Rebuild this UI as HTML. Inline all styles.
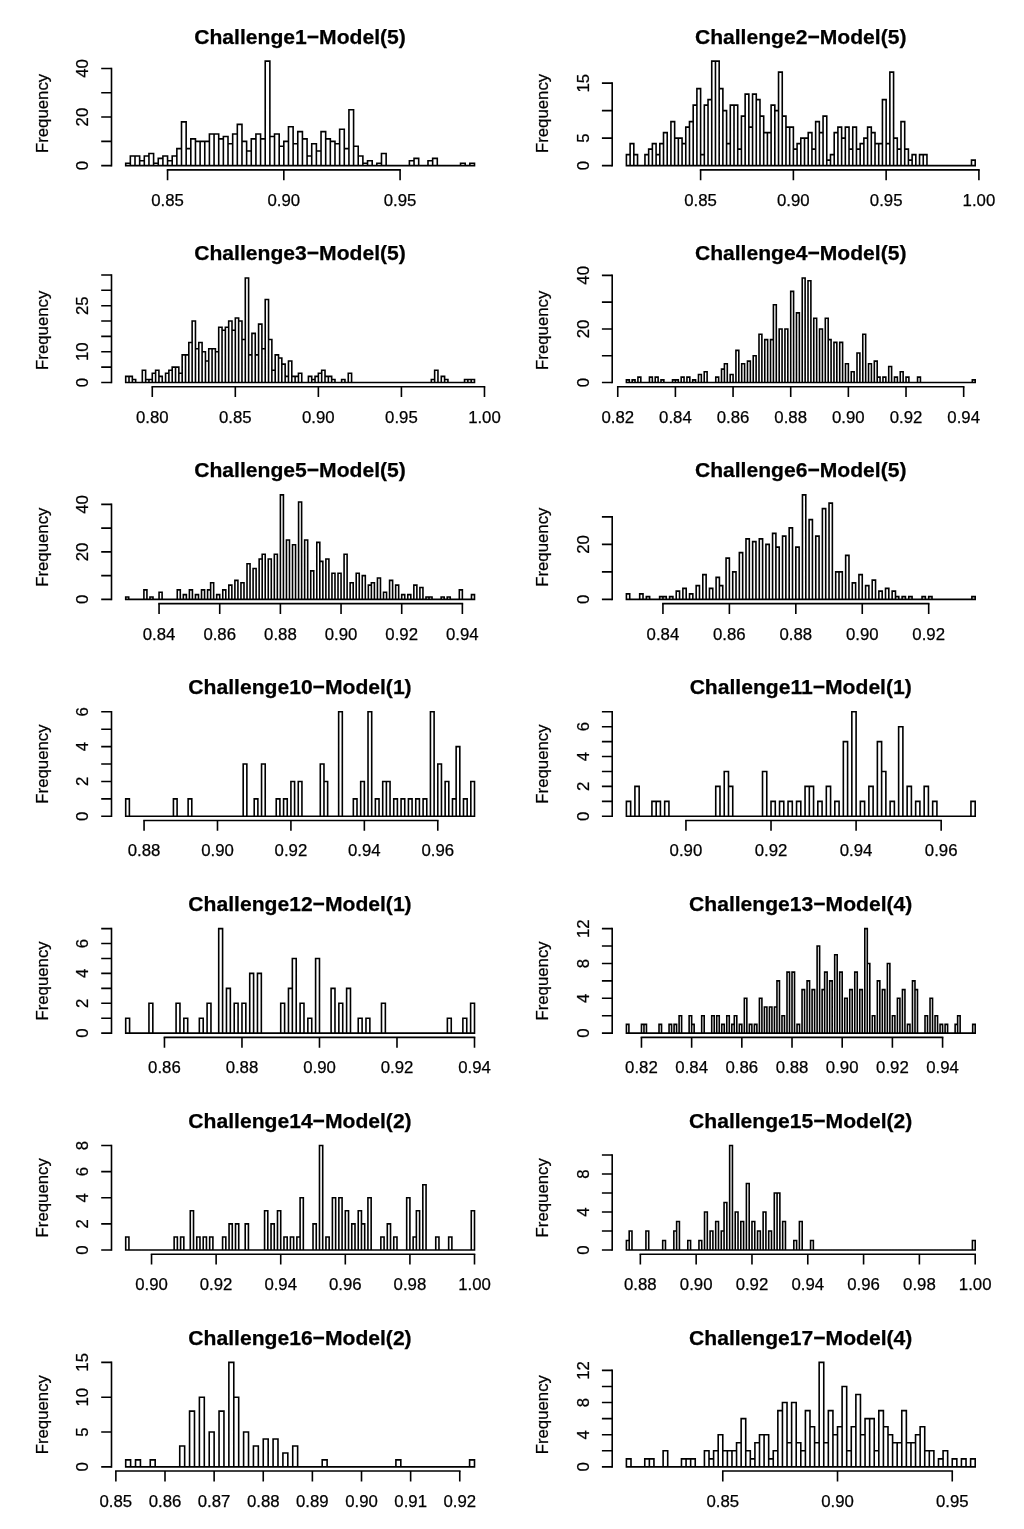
<!DOCTYPE html><html><head><meta charset="utf-8"><style>html,body{margin:0;padding:0;background:#fff;}svg{display:block;filter:grayscale(1);}text{font-family:"Liberation Sans",sans-serif;stroke:#000;stroke-width:0.25px;}</style></head><body>
<svg width="1024" height="1529" viewBox="0 0 1024 1529">
<rect width="1024" height="1529" fill="#fff"/>
<g><path d="M125.7 165.65V163.22H130.35V165.65ZM130.35 165.65V155.93H135V165.65ZM135 165.65V155.93H139.65V165.65ZM139.65 165.65V160.79H144.3V165.65ZM144.3 165.65V155.93H148.95V165.65ZM148.95 165.65V153.5H153.6V165.65ZM153.6 165.65V163.22H158.25V165.65ZM158.25 165.65V158.36H162.91V165.65ZM162.91 165.65V155.93H167.56V165.65ZM167.56 165.65V160.79H172.21V165.65ZM172.21 165.65V155.93H176.86V165.65ZM176.86 165.65V148.64H181.51V165.65ZM181.51 165.65V121.91H186.16V165.65ZM186.16 165.65V148.64H190.81V165.65ZM190.81 165.65V138.92H195.46V165.65ZM195.46 165.65V141.35H200.11V165.65ZM200.11 165.65V141.35H204.76V165.65ZM204.76 165.65V141.35H209.41V165.65ZM209.41 165.65V134.06H214.06V165.65ZM214.06 165.65V134.06H218.71V165.65ZM218.71 165.65V138.92H223.36V165.65ZM223.36 165.65V136.49H228.01V165.65ZM228.01 165.65V143.78H232.67V165.65ZM232.67 165.65V134.06H237.32V165.65ZM237.32 165.65V124.34H241.97V165.65ZM241.97 165.65V141.35H246.62V165.65ZM246.62 165.65V151.07H251.27V165.65ZM251.27 165.65V138.92H255.92V165.65ZM255.92 165.65V134.06H260.57V165.65ZM260.57 165.65V138.92H265.22V165.65ZM265.22 165.65V61.15H269.87V165.65ZM269.87 165.65V136.49H274.52V165.65ZM274.52 165.65V134.06H279.17V165.65ZM279.17 165.65V146.21H283.82V165.65ZM283.82 165.65V141.35H288.47V165.65ZM288.47 165.65V126.77H293.12V165.65ZM293.12 165.65V143.78H297.77V165.65ZM297.77 165.65V131.63H302.43V165.65ZM302.43 165.65V138.92H307.08V165.65ZM307.08 165.65V155.93H311.73V165.65ZM311.73 165.65V143.78H316.38V165.65ZM316.38 165.65V151.07H321.03V165.65ZM321.03 165.65V131.63H325.68V165.65ZM325.68 165.65V138.92H330.33V165.65ZM330.33 165.65V141.35H334.98V165.65ZM334.98 165.65V143.78H339.63V165.65ZM339.63 165.65V129.2H344.28V165.65ZM344.28 165.65V148.64H348.93V165.65ZM348.93 165.65V109.75H353.58V165.65ZM353.58 165.65V146.21H358.23V165.65ZM358.23 165.65V155.93H362.88V165.65ZM362.88 165.65V163.22H367.53V165.65ZM367.53 165.65V160.79H372.19V165.65ZM372.19 165.65V165.65H376.84V165.65ZM376.84 165.65V163.22H381.49V165.65ZM381.49 165.65V153.5H386.14V165.65ZM386.14 165.65V165.65H390.79V165.65ZM390.79 165.65V165.65H395.44V165.65ZM395.44 165.65V165.65H400.09V165.65ZM400.09 165.65V165.65H404.74V165.65ZM404.74 165.65V165.65H409.39V165.65ZM409.39 165.65V160.79H414.04V165.65ZM414.04 165.65V158.36H418.69V165.65ZM418.69 165.65V165.65H423.34V165.65ZM423.34 165.65V165.65H427.99V165.65ZM427.99 165.65V160.79H432.64V165.65ZM432.64 165.65V158.36H437.29V165.65ZM437.29 165.65V165.65H441.95V165.65ZM441.95 165.65V165.65H446.6V165.65ZM446.6 165.65V165.65H451.25V165.65ZM451.25 165.65V165.65H455.9V165.65ZM455.9 165.65V165.65H460.55V165.65ZM460.55 165.65V163.22H465.2V165.65ZM465.2 165.65V165.65H469.85V165.65ZM469.85 165.65V163.22H474.5V165.65Z" fill="none" stroke="#000" stroke-width="1.6" stroke-linejoin="miter"/><path d="M167.56 169.85H400.09M111.5 165.65V68.44" fill="none" stroke="#000" stroke-width="1.6" stroke-linecap="square"/><path d="M167.56 169.85V180.25M283.82 169.85V180.25M400.09 169.85V180.25M101.2 165.65H111.5M101.2 141.35H111.5M101.2 117.05H111.5M101.2 92.74H111.5M101.2 68.44H111.5" fill="none" stroke="#000" stroke-width="1.6"/><text x="167.56" y="205.8" font-size="16.8" text-anchor="middle">0.85</text><text x="283.82" y="205.8" font-size="16.8" text-anchor="middle">0.90</text><text x="400.09" y="205.8" font-size="16.8" text-anchor="middle">0.95</text><text transform="translate(87.9 165.65) rotate(-90)" font-size="16.8" text-anchor="middle">0</text><text transform="translate(87.9 117.05) rotate(-90)" font-size="16.8" text-anchor="middle">20</text><text transform="translate(87.9 68.44) rotate(-90)" font-size="16.8" text-anchor="middle">40</text><text transform="translate(47.5 113.45) rotate(-90)" font-size="16.8" text-anchor="middle">Frequency</text><text x="300" y="43.55" font-size="21.1" font-weight="bold" text-anchor="middle">Challenge1−Model(5)</text></g>
<g><path d="M626.4 165.65V154.65H630.11V165.65ZM630.11 165.65V143.65H633.82V165.65ZM633.82 165.65V154.65H637.53V165.65ZM637.53 165.65V165.65H641.24V165.65ZM641.24 165.65V165.65H644.95V165.65ZM644.95 165.65V154.65H648.66V165.65ZM648.66 165.65V149.15H652.37V165.65ZM652.37 165.65V143.65H656.09V165.65ZM656.09 165.65V154.65H659.8V165.65ZM659.8 165.65V143.65H663.51V165.65ZM663.51 165.65V132.65H667.22V165.65ZM667.22 165.65V165.65H670.93V165.65ZM670.93 165.65V121.65H674.64V165.65ZM674.64 165.65V138.15H678.35V165.65ZM678.35 165.65V138.15H682.06V165.65ZM682.06 165.65V143.65H685.77V165.65ZM685.77 165.65V127.15H689.48V165.65ZM689.48 165.65V121.65H693.19V165.65ZM693.19 165.65V105.15H696.9V165.65ZM696.9 165.65V88.65H700.61V165.65ZM700.61 165.65V154.65H704.32V165.65ZM704.32 165.65V105.15H708.03V165.65ZM708.03 165.65V99.65H711.74V165.65ZM711.74 165.65V61.15H715.46V165.65ZM715.46 165.65V61.15H719.17V165.65ZM719.17 165.65V88.65H722.88V165.65ZM722.88 165.65V110.65H726.59V165.65ZM726.59 165.65V143.65H730.3V165.65ZM730.3 165.65V105.15H734.01V165.65ZM734.01 165.65V105.15H737.72V165.65ZM737.72 165.65V149.15H741.43V165.65ZM741.43 165.65V116.15H745.14V165.65ZM745.14 165.65V94.15H748.85V165.65ZM748.85 165.65V127.15H752.56V165.65ZM752.56 165.65V94.15H756.27V165.65ZM756.27 165.65V99.65H759.98V165.65ZM759.98 165.65V116.15H763.69V165.65ZM763.69 165.65V132.65H767.4V165.65ZM767.4 165.65V132.65H771.11V165.65ZM771.11 165.65V105.15H774.83V165.65ZM774.83 165.65V110.65H778.54V165.65ZM778.54 165.65V72.15H782.25V165.65ZM782.25 165.65V116.15H785.96V165.65ZM785.96 165.65V127.15H789.67V165.65ZM789.67 165.65V127.15H793.38V165.65ZM793.38 165.65V149.15H797.09V165.65ZM797.09 165.65V143.65H800.8V165.65ZM800.8 165.65V138.15H804.51V165.65ZM804.51 165.65V138.15H808.22V165.65ZM808.22 165.65V132.65H811.93V165.65ZM811.93 165.65V149.15H815.64V165.65ZM815.64 165.65V121.65H819.35V165.65ZM819.35 165.65V132.65H823.06V165.65ZM823.06 165.65V116.15H826.77V165.65ZM826.77 165.65V160.15H830.49V165.65ZM830.49 165.65V154.65H834.2V165.65ZM834.2 165.65V132.65H837.91V165.65ZM837.91 165.65V127.15H841.62V165.65ZM841.62 165.65V138.15H845.33V165.65ZM845.33 165.65V127.15H849.04V165.65ZM849.04 165.65V149.15H852.75V165.65ZM852.75 165.65V127.15H856.46V165.65ZM856.46 165.65V149.15H860.17V165.65ZM860.17 165.65V143.65H863.88V165.65ZM863.88 165.65V138.15H867.59V165.65ZM867.59 165.65V127.15H871.3V165.65ZM871.3 165.65V132.65H875.01V165.65ZM875.01 165.65V143.65H878.72V165.65ZM878.72 165.65V143.65H882.43V165.65ZM882.43 165.65V99.65H886.14V165.65ZM886.14 165.65V143.65H889.86V165.65ZM889.86 165.65V72.15H893.57V165.65ZM893.57 165.65V138.15H897.28V165.65ZM897.28 165.65V149.15H900.99V165.65ZM900.99 165.65V121.65H904.7V165.65ZM904.7 165.65V149.15H908.41V165.65ZM908.41 165.65V160.15H912.12V165.65ZM912.12 165.65V154.65H915.83V165.65ZM915.83 165.65V165.65H919.54V165.65ZM919.54 165.65V154.65H923.25V165.65ZM923.25 165.65V154.65H926.96V165.65ZM926.96 165.65V165.65H930.67V165.65ZM930.67 165.65V165.65H934.38V165.65ZM934.38 165.65V165.65H938.09V165.65ZM938.09 165.65V165.65H941.8V165.65ZM941.8 165.65V165.65H945.51V165.65ZM945.51 165.65V165.65H949.23V165.65ZM949.23 165.65V165.65H952.94V165.65ZM952.94 165.65V165.65H956.65V165.65ZM956.65 165.65V165.65H960.36V165.65ZM960.36 165.65V165.65H964.07V165.65ZM964.07 165.65V165.65H967.78V165.65ZM967.78 165.65V165.65H971.49V165.65ZM971.49 165.65V160.15H975.2V165.65Z" fill="none" stroke="#000" stroke-width="1.6" stroke-linejoin="miter"/><path d="M700.61 169.85H978.91M612.2 165.65V83.15" fill="none" stroke="#000" stroke-width="1.6" stroke-linecap="square"/><path d="M700.61 169.85V180.25M793.38 169.85V180.25M886.14 169.85V180.25M978.91 169.85V180.25M601.9 165.65H612.2M601.9 138.15H612.2M601.9 110.65H612.2M601.9 83.15H612.2" fill="none" stroke="#000" stroke-width="1.6"/><text x="700.61" y="205.8" font-size="16.8" text-anchor="middle">0.85</text><text x="793.38" y="205.8" font-size="16.8" text-anchor="middle">0.90</text><text x="886.14" y="205.8" font-size="16.8" text-anchor="middle">0.95</text><text x="978.91" y="205.8" font-size="16.8" text-anchor="middle">1.00</text><text transform="translate(588.6 165.65) rotate(-90)" font-size="16.8" text-anchor="middle">0</text><text transform="translate(588.6 138.15) rotate(-90)" font-size="16.8" text-anchor="middle">5</text><text transform="translate(588.6 83.15) rotate(-90)" font-size="16.8" text-anchor="middle">15</text><text transform="translate(548.2 113.45) rotate(-90)" font-size="16.8" text-anchor="middle">Frequency</text><text x="800.7" y="43.55" font-size="21.1" font-weight="bold" text-anchor="middle">Challenge2−Model(5)</text></g>
<g><path d="M125.7 382.52V376.37H129.02V382.52ZM129.02 382.52V376.37H132.34V382.52ZM132.34 382.52V379.45H135.67V382.52ZM135.67 382.52V382.52H138.99V382.52ZM138.99 382.52V382.52H142.31V382.52ZM142.31 382.52V370.23H145.63V382.52ZM145.63 382.52V379.45H148.95V382.52ZM148.95 382.52V379.45H152.28V382.52ZM152.28 382.52V373.3H155.6V382.52ZM155.6 382.52V370.23H158.92V382.52ZM158.92 382.52V376.37H162.24V382.52ZM162.24 382.52V382.52H165.56V382.52ZM165.56 382.52V373.3H168.88V382.52ZM168.88 382.52V370.23H172.21V382.52ZM172.21 382.52V367.15H175.53V382.52ZM175.53 382.52V367.15H178.85V382.52ZM178.85 382.52V373.3H182.17V382.52ZM182.17 382.52V354.86H185.49V382.52ZM185.49 382.52V354.86H188.82V382.52ZM188.82 382.52V342.56H192.14V382.52ZM192.14 382.52V321.05H195.46V382.52ZM195.46 382.52V348.71H198.78V382.52ZM198.78 382.52V342.56H202.1V382.52ZM202.1 382.52V351.78H205.43V382.52ZM205.43 382.52V361.01H208.75V382.52ZM208.75 382.52V348.71H212.07V382.52ZM212.07 382.52V348.71H215.39V382.52ZM215.39 382.52V351.78H218.71V382.52ZM218.71 382.52V327.2H222.04V382.52ZM222.04 382.52V330.27H225.36V382.52ZM225.36 382.52V327.2H228.68V382.52ZM228.68 382.52V321.05H232V382.52ZM232 382.52V330.27H235.32V382.52ZM235.32 382.52V317.98H238.64V382.52ZM238.64 382.52V321.05H241.97V382.52ZM241.97 382.52V339.49H245.29V382.52ZM245.29 382.52V278.02H248.61V382.52ZM248.61 382.52V354.86H251.93V382.52ZM251.93 382.52V333.34H255.25V382.52ZM255.25 382.52V354.86H258.58V382.52ZM258.58 382.52V324.12H261.9V382.52ZM261.9 382.52V348.71H265.22V382.52ZM265.22 382.52V299.53H268.54V382.52ZM268.54 382.52V339.49H271.86V382.52ZM271.86 382.52V370.23H275.19V382.52ZM275.19 382.52V354.86H278.51V382.52ZM278.51 382.52V357.93H281.83V382.52ZM281.83 382.52V364.08H285.15V382.52ZM285.15 382.52V376.37H288.47V382.52ZM288.47 382.52V361.01H291.8V382.52ZM291.8 382.52V376.37H295.12V382.52ZM295.12 382.52V376.37H298.44V382.52ZM298.44 382.52V373.3H301.76V382.52ZM301.76 382.52V382.52H305.08V382.52ZM305.08 382.52V382.52H308.4V382.52ZM308.4 382.52V376.37H311.73V382.52ZM311.73 382.52V379.45H315.05V382.52ZM315.05 382.52V376.37H318.37V382.52ZM318.37 382.52V373.3H321.69V382.52ZM321.69 382.52V370.23H325.01V382.52ZM325.01 382.52V376.37H328.34V382.52ZM328.34 382.52V376.37H331.66V382.52ZM331.66 382.52V379.45H334.98V382.52ZM334.98 382.52V382.52H338.3V382.52ZM338.3 382.52V382.52H341.62V382.52ZM341.62 382.52V379.45H344.95V382.52ZM344.95 382.52V382.52H348.27V382.52ZM348.27 382.52V373.3H351.59V382.52ZM351.59 382.52V382.52H354.91V382.52ZM354.91 382.52V382.52H358.23V382.52ZM358.23 382.52V382.52H361.56V382.52ZM361.56 382.52V382.52H364.88V382.52ZM364.88 382.52V382.52H368.2V382.52ZM368.2 382.52V382.52H371.52V382.52ZM371.52 382.52V382.52H374.84V382.52ZM374.84 382.52V382.52H378.16V382.52ZM378.16 382.52V382.52H381.49V382.52ZM381.49 382.52V382.52H384.81V382.52ZM384.81 382.52V382.52H388.13V382.52ZM388.13 382.52V382.52H391.45V382.52ZM391.45 382.52V382.52H394.77V382.52ZM394.77 382.52V382.52H398.1V382.52ZM398.1 382.52V382.52H401.42V382.52ZM401.42 382.52V382.52H404.74V382.52ZM404.74 382.52V382.52H408.06V382.52ZM408.06 382.52V382.52H411.38V382.52ZM411.38 382.52V382.52H414.71V382.52ZM414.71 382.52V382.52H418.03V382.52ZM418.03 382.52V382.52H421.35V382.52ZM421.35 382.52V382.52H424.67V382.52ZM424.67 382.52V382.52H427.99V382.52ZM427.99 382.52V382.52H431.32V382.52ZM431.32 382.52V379.45H434.64V382.52ZM434.64 382.52V370.23H437.96V382.52ZM437.96 382.52V382.52H441.28V382.52ZM441.28 382.52V376.37H444.6V382.52ZM444.6 382.52V379.45H447.92V382.52ZM447.92 382.52V382.52H451.25V382.52ZM451.25 382.52V382.52H454.57V382.52ZM454.57 382.52V382.52H457.89V382.52ZM457.89 382.52V382.52H461.21V382.52ZM461.21 382.52V382.52H464.53V382.52ZM464.53 382.52V379.45H467.86V382.52ZM467.86 382.52V379.45H471.18V382.52ZM471.18 382.52V379.45H474.5V382.52Z" fill="none" stroke="#000" stroke-width="1.6" stroke-linejoin="miter"/><path d="M152.28 386.72H484.47M111.5 382.52V274.95" fill="none" stroke="#000" stroke-width="1.6" stroke-linecap="square"/><path d="M152.28 386.72V397.12M235.32 386.72V397.12M318.37 386.72V397.12M401.42 386.72V397.12M484.47 386.72V397.12M101.2 382.52H111.5M101.2 367.15H111.5M101.2 351.78H111.5M101.2 336.42H111.5M101.2 321.05H111.5M101.2 305.68H111.5M101.2 290.31H111.5M101.2 274.95H111.5" fill="none" stroke="#000" stroke-width="1.6"/><text x="152.28" y="422.67" font-size="16.8" text-anchor="middle">0.80</text><text x="235.32" y="422.67" font-size="16.8" text-anchor="middle">0.85</text><text x="318.37" y="422.67" font-size="16.8" text-anchor="middle">0.90</text><text x="401.42" y="422.67" font-size="16.8" text-anchor="middle">0.95</text><text x="484.47" y="422.67" font-size="16.8" text-anchor="middle">1.00</text><text transform="translate(87.9 382.52) rotate(-90)" font-size="16.8" text-anchor="middle">0</text><text transform="translate(87.9 351.78) rotate(-90)" font-size="16.8" text-anchor="middle">10</text><text transform="translate(87.9 305.68) rotate(-90)" font-size="16.8" text-anchor="middle">25</text><text transform="translate(47.5 330.32) rotate(-90)" font-size="16.8" text-anchor="middle">Frequency</text><text x="300" y="260.42" font-size="21.1" font-weight="bold" text-anchor="middle">Challenge3−Model(5)</text></g>
<g><path d="M626.4 382.52V379.84H629.28V382.52ZM629.28 382.52V382.52H632.17V382.52ZM632.17 382.52V379.84H635.05V382.52ZM635.05 382.52V382.52H637.93V382.52ZM637.93 382.52V377.16H640.81V382.52ZM640.81 382.52V382.52H643.7V382.52ZM643.7 382.52V382.52H646.58V382.52ZM646.58 382.52V382.52H649.46V382.52ZM649.46 382.52V377.16H652.34V382.52ZM652.34 382.52V382.52H655.23V382.52ZM655.23 382.52V377.16H658.11V382.52ZM658.11 382.52V382.52H660.99V382.52ZM660.99 382.52V379.84H663.87V382.52ZM663.87 382.52V382.52H666.76V382.52ZM666.76 382.52V382.52H669.64V382.52ZM669.64 382.52V382.52H672.52V382.52ZM672.52 382.52V379.84H675.4V382.52ZM675.4 382.52V379.84H678.29V382.52ZM678.29 382.52V382.52H681.17V382.52ZM681.17 382.52V377.16H684.05V382.52ZM684.05 382.52V382.52H686.94V382.52ZM686.94 382.52V377.16H689.82V382.52ZM689.82 382.52V382.52H692.7V382.52ZM692.7 382.52V379.84H695.58V382.52ZM695.58 382.52V382.52H698.47V382.52ZM698.47 382.52V374.48H701.35V382.52ZM701.35 382.52V382.52H704.23V382.52ZM704.23 382.52V371.8H707.11V382.52ZM707.11 382.52V382.52H710V382.52ZM710 382.52V382.52H712.88V382.52ZM712.88 382.52V382.52H715.76V382.52ZM715.76 382.52V377.16H718.64V382.52ZM718.64 382.52V382.52H721.53V382.52ZM721.53 382.52V369.12H724.41V382.52ZM724.41 382.52V363.76H727.29V382.52ZM727.29 382.52V382.52H730.18V382.52ZM730.18 382.52V374.48H733.06V382.52ZM733.06 382.52V382.52H735.94V382.52ZM735.94 382.52V350.37H738.82V382.52ZM738.82 382.52V382.52H741.71V382.52ZM741.71 382.52V363.76H744.59V382.52ZM744.59 382.52V382.52H747.47V382.52ZM747.47 382.52V361.08H750.35V382.52ZM750.35 382.52V382.52H753.24V382.52ZM753.24 382.52V355.73H756.12V382.52ZM756.12 382.52V382.52H759V382.52ZM759 382.52V334.29H761.88V382.52ZM761.88 382.52V382.52H764.77V382.52ZM764.77 382.52V339.65H767.65V382.52ZM767.65 382.52V382.52H770.53V382.52ZM770.53 382.52V339.65H773.41V382.52ZM773.41 382.52V304.81H776.3V382.52ZM776.3 382.52V382.52H779.18V382.52ZM779.18 382.52V328.93H782.06V382.52ZM782.06 382.52V382.52H784.95V382.52ZM784.95 382.52V328.93H787.83V382.52ZM787.83 382.52V382.52H790.71V382.52ZM790.71 382.52V291.42H793.59V382.52ZM793.59 382.52V382.52H796.48V382.52ZM796.48 382.52V312.85H799.36V382.52ZM799.36 382.52V382.52H802.24V382.52ZM802.24 382.52V278.02H805.12V382.52ZM805.12 382.52V382.52H808.01V382.52ZM808.01 382.52V280.7H810.89V382.52ZM810.89 382.52V382.52H813.77V382.52ZM813.77 382.52V318.21H816.65V382.52ZM816.65 382.52V382.52H819.54V382.52ZM819.54 382.52V328.93H822.42V382.52ZM822.42 382.52V382.52H825.3V382.52ZM825.3 382.52V318.21H828.19V382.52ZM828.19 382.52V339.65H831.07V382.52ZM831.07 382.52V382.52H833.95V382.52ZM833.95 382.52V342.33H836.83V382.52ZM836.83 382.52V382.52H839.72V382.52ZM839.72 382.52V342.33H842.6V382.52ZM842.6 382.52V382.52H845.48V382.52ZM845.48 382.52V363.76H848.36V382.52ZM848.36 382.52V382.52H851.25V382.52ZM851.25 382.52V371.8H854.13V382.52ZM854.13 382.52V382.52H857.01V382.52ZM857.01 382.52V353.05H859.89V382.52ZM859.89 382.52V382.52H862.78V382.52ZM862.78 382.52V334.29H865.66V382.52ZM865.66 382.52V382.52H868.54V382.52ZM868.54 382.52V363.76H871.42V382.52ZM871.42 382.52V382.52H874.31V382.52ZM874.31 382.52V361.08H877.19V382.52ZM877.19 382.52V377.16H880.07V382.52ZM880.07 382.52V382.52H882.96V382.52ZM882.96 382.52V377.16H885.84V382.52ZM885.84 382.52V382.52H888.72V382.52ZM888.72 382.52V366.44H891.6V382.52ZM891.6 382.52V382.52H894.49V382.52ZM894.49 382.52V377.16H897.37V382.52ZM897.37 382.52V382.52H900.25V382.52ZM900.25 382.52V371.8H903.13V382.52ZM903.13 382.52V382.52H906.02V382.52ZM906.02 382.52V377.16H908.9V382.52ZM908.9 382.52V382.52H911.78V382.52ZM911.78 382.52V382.52H914.66V382.52ZM914.66 382.52V382.52H917.55V382.52ZM917.55 382.52V377.16H920.43V382.52ZM920.43 382.52V382.52H923.31V382.52ZM923.31 382.52V382.52H926.2V382.52ZM926.2 382.52V382.52H929.08V382.52ZM929.08 382.52V382.52H931.96V382.52ZM931.96 382.52V382.52H934.84V382.52ZM934.84 382.52V382.52H937.73V382.52ZM937.73 382.52V382.52H940.61V382.52ZM940.61 382.52V382.52H943.49V382.52ZM943.49 382.52V382.52H946.37V382.52ZM946.37 382.52V382.52H949.26V382.52ZM949.26 382.52V382.52H952.14V382.52ZM952.14 382.52V382.52H955.02V382.52ZM955.02 382.52V382.52H957.9V382.52ZM957.9 382.52V382.52H960.79V382.52ZM960.79 382.52V382.52H963.67V382.52ZM963.67 382.52V382.52H966.55V382.52ZM966.55 382.52V382.52H969.43V382.52ZM969.43 382.52V382.52H972.32V382.52ZM972.32 382.52V379.84H975.2V382.52Z" fill="none" stroke="#000" stroke-width="1.6" stroke-linejoin="miter"/><path d="M617.75 386.72H963.67M612.2 382.52V275.34" fill="none" stroke="#000" stroke-width="1.6" stroke-linecap="square"/><path d="M617.75 386.72V397.12M675.4 386.72V397.12M733.06 386.72V397.12M790.71 386.72V397.12M848.36 386.72V397.12M906.02 386.72V397.12M963.67 386.72V397.12M601.9 382.52H612.2M601.9 355.73H612.2M601.9 328.93H612.2M601.9 302.14H612.2M601.9 275.34H612.2" fill="none" stroke="#000" stroke-width="1.6"/><text x="617.75" y="422.67" font-size="16.8" text-anchor="middle">0.82</text><text x="675.4" y="422.67" font-size="16.8" text-anchor="middle">0.84</text><text x="733.06" y="422.67" font-size="16.8" text-anchor="middle">0.86</text><text x="790.71" y="422.67" font-size="16.8" text-anchor="middle">0.88</text><text x="848.36" y="422.67" font-size="16.8" text-anchor="middle">0.90</text><text x="906.02" y="422.67" font-size="16.8" text-anchor="middle">0.92</text><text x="963.67" y="422.67" font-size="16.8" text-anchor="middle">0.94</text><text transform="translate(588.6 382.52) rotate(-90)" font-size="16.8" text-anchor="middle">0</text><text transform="translate(588.6 328.93) rotate(-90)" font-size="16.8" text-anchor="middle">20</text><text transform="translate(588.6 275.34) rotate(-90)" font-size="16.8" text-anchor="middle">40</text><text transform="translate(548.2 330.32) rotate(-90)" font-size="16.8" text-anchor="middle">Frequency</text><text x="800.7" y="260.42" font-size="21.1" font-weight="bold" text-anchor="middle">Challenge4−Model(5)</text></g>
<g><path d="M125.7 599.39V597.01H128.73V599.39ZM128.73 599.39V599.39H131.77V599.39ZM131.77 599.39V599.39H134.8V599.39ZM134.8 599.39V599.39H137.83V599.39ZM137.83 599.39V599.39H140.87V599.39ZM140.87 599.39V599.39H143.9V599.39ZM143.9 599.39V589.89H146.93V599.39ZM146.93 599.39V599.39H149.96V599.39ZM149.96 599.39V597.01H153V599.39ZM153 599.39V599.39H156.03V599.39ZM156.03 599.39V599.39H159.06V599.39ZM159.06 599.39V592.26H162.1V599.39ZM162.1 599.39V599.39H165.13V599.39ZM165.13 599.39V599.39H168.16V599.39ZM168.16 599.39V599.39H171.2V599.39ZM171.2 599.39V599.39H174.23V599.39ZM174.23 599.39V599.39H177.26V599.39ZM177.26 599.39V589.89H180.29V599.39ZM180.29 599.39V599.39H183.33V599.39ZM183.33 599.39V594.64H186.36V599.39ZM186.36 599.39V599.39H189.39V599.39ZM189.39 599.39V589.89H192.43V599.39ZM192.43 599.39V599.39H195.46V599.39ZM195.46 599.39V594.64H198.49V599.39ZM198.49 599.39V599.39H201.53V599.39ZM201.53 599.39V589.89H204.56V599.39ZM204.56 599.39V599.39H207.59V599.39ZM207.59 599.39V589.89H210.63V599.39ZM210.63 599.39V582.76H213.66V599.39ZM213.66 599.39V599.39H216.69V599.39ZM216.69 599.39V594.64H219.72V599.39ZM219.72 599.39V599.39H222.76V599.39ZM222.76 599.39V589.89H225.79V599.39ZM225.79 599.39V599.39H228.82V599.39ZM228.82 599.39V585.14H231.86V599.39ZM231.86 599.39V599.39H234.89V599.39ZM234.89 599.39V580.39H237.92V599.39ZM237.92 599.39V599.39H240.96V599.39ZM240.96 599.39V582.76H243.99V599.39ZM243.99 599.39V599.39H247.02V599.39ZM247.02 599.39V563.76H250.05V599.39ZM250.05 599.39V599.39H253.09V599.39ZM253.09 599.39V568.51H256.12V599.39ZM256.12 599.39V599.39H259.15V599.39ZM259.15 599.39V559.01H262.19V599.39ZM262.19 599.39V554.26H265.22V599.39ZM265.22 599.39V599.39H268.25V599.39ZM268.25 599.39V559.01H271.29V599.39ZM271.29 599.39V599.39H274.32V599.39ZM274.32 599.39V554.26H277.35V599.39ZM277.35 599.39V599.39H280.39V599.39ZM280.39 599.39V494.89H283.42V599.39ZM283.42 599.39V599.39H286.45V599.39ZM286.45 599.39V540.01H289.48V599.39ZM289.48 599.39V599.39H292.52V599.39ZM292.52 599.39V544.76H295.55V599.39ZM295.55 599.39V599.39H298.58V599.39ZM298.58 599.39V502.01H301.62V599.39ZM301.62 599.39V599.39H304.65V599.39ZM304.65 599.39V540.01H307.68V599.39ZM307.68 599.39V599.39H310.72V599.39ZM310.72 599.39V570.89H313.75V599.39ZM313.75 599.39V599.39H316.78V599.39ZM316.78 599.39V542.39H319.81V599.39ZM319.81 599.39V561.39H322.85V599.39ZM322.85 599.39V599.39H325.88V599.39ZM325.88 599.39V559.01H328.91V599.39ZM328.91 599.39V599.39H331.95V599.39ZM331.95 599.39V573.26H334.98V599.39ZM334.98 599.39V599.39H338.01V599.39ZM338.01 599.39V573.26H341.05V599.39ZM341.05 599.39V599.39H344.08V599.39ZM344.08 599.39V554.26H347.11V599.39ZM347.11 599.39V599.39H350.15V599.39ZM350.15 599.39V582.76H353.18V599.39ZM353.18 599.39V599.39H356.21V599.39ZM356.21 599.39V573.26H359.24V599.39ZM359.24 599.39V599.39H362.28V599.39ZM362.28 599.39V575.64H365.31V599.39ZM365.31 599.39V599.39H368.34V599.39ZM368.34 599.39V585.14H371.38V599.39ZM371.38 599.39V582.76H374.41V599.39ZM374.41 599.39V599.39H377.44V599.39ZM377.44 599.39V578.01H380.48V599.39ZM380.48 599.39V599.39H383.51V599.39ZM383.51 599.39V592.26H386.54V599.39ZM386.54 599.39V599.39H389.57V599.39ZM389.57 599.39V580.39H392.61V599.39ZM392.61 599.39V599.39H395.64V599.39ZM395.64 599.39V585.14H398.67V599.39ZM398.67 599.39V599.39H401.71V599.39ZM401.71 599.39V594.64H404.74V599.39ZM404.74 599.39V599.39H407.77V599.39ZM407.77 599.39V594.64H410.81V599.39ZM410.81 599.39V599.39H413.84V599.39ZM413.84 599.39V585.14H416.87V599.39ZM416.87 599.39V599.39H419.91V599.39ZM419.91 599.39V587.51H422.94V599.39ZM422.94 599.39V599.39H425.97V599.39ZM425.97 599.39V597.01H429V599.39ZM429 599.39V597.01H432.04V599.39ZM432.04 599.39V599.39H435.07V599.39ZM435.07 599.39V599.39H438.1V599.39ZM438.1 599.39V599.39H441.14V599.39ZM441.14 599.39V597.01H444.17V599.39ZM444.17 599.39V599.39H447.2V599.39ZM447.2 599.39V597.01H450.24V599.39ZM450.24 599.39V599.39H453.27V599.39ZM453.27 599.39V599.39H456.3V599.39ZM456.3 599.39V599.39H459.33V599.39ZM459.33 599.39V589.89H462.37V599.39ZM462.37 599.39V599.39H465.4V599.39ZM465.4 599.39V599.39H468.43V599.39ZM468.43 599.39V599.39H471.47V599.39ZM471.47 599.39V594.64H474.5V599.39Z" fill="none" stroke="#000" stroke-width="1.6" stroke-linejoin="miter"/><path d="M159.06 603.59H462.37M111.5 599.39V504.39" fill="none" stroke="#000" stroke-width="1.6" stroke-linecap="square"/><path d="M159.06 603.59V613.99M219.72 603.59V613.99M280.39 603.59V613.99M341.05 603.59V613.99M401.71 603.59V613.99M462.37 603.59V613.99M101.2 599.39H111.5M101.2 575.64H111.5M101.2 551.89H111.5M101.2 528.14H111.5M101.2 504.39H111.5" fill="none" stroke="#000" stroke-width="1.6"/><text x="159.06" y="639.54" font-size="16.8" text-anchor="middle">0.84</text><text x="219.72" y="639.54" font-size="16.8" text-anchor="middle">0.86</text><text x="280.39" y="639.54" font-size="16.8" text-anchor="middle">0.88</text><text x="341.05" y="639.54" font-size="16.8" text-anchor="middle">0.90</text><text x="401.71" y="639.54" font-size="16.8" text-anchor="middle">0.92</text><text x="462.37" y="639.54" font-size="16.8" text-anchor="middle">0.94</text><text transform="translate(87.9 599.39) rotate(-90)" font-size="16.8" text-anchor="middle">0</text><text transform="translate(87.9 551.89) rotate(-90)" font-size="16.8" text-anchor="middle">20</text><text transform="translate(87.9 504.39) rotate(-90)" font-size="16.8" text-anchor="middle">40</text><text transform="translate(47.5 547.19) rotate(-90)" font-size="16.8" text-anchor="middle">Frequency</text><text x="300" y="477.29" font-size="21.1" font-weight="bold" text-anchor="middle">Challenge5−Model(5)</text></g>
<g><path d="M626.4 599.39V593.89H629.72V599.39ZM629.72 599.39V599.39H633.04V599.39ZM633.04 599.39V599.39H636.37V599.39ZM636.37 599.39V599.39H639.69V599.39ZM639.69 599.39V593.89H643.01V599.39ZM643.01 599.39V599.39H646.33V599.39ZM646.33 599.39V596.64H649.65V599.39ZM649.65 599.39V599.39H652.98V599.39ZM652.98 599.39V599.39H656.3V599.39ZM656.3 599.39V599.39H659.62V599.39ZM659.62 599.39V596.64H662.94V599.39ZM662.94 599.39V596.64H666.26V599.39ZM666.26 599.39V599.39H669.58V599.39ZM669.58 599.39V596.64H672.91V599.39ZM672.91 599.39V599.39H676.23V599.39ZM676.23 599.39V591.14H679.55V599.39ZM679.55 599.39V599.39H682.87V599.39ZM682.87 599.39V588.39H686.19V599.39ZM686.19 599.39V599.39H689.52V599.39ZM689.52 599.39V593.89H692.84V599.39ZM692.84 599.39V599.39H696.16V599.39ZM696.16 599.39V585.64H699.48V599.39ZM699.48 599.39V599.39H702.8V599.39ZM702.8 599.39V574.64H706.13V599.39ZM706.13 599.39V599.39H709.45V599.39ZM709.45 599.39V588.39H712.77V599.39ZM712.77 599.39V599.39H716.09V599.39ZM716.09 599.39V577.39H719.41V599.39ZM719.41 599.39V585.64H722.74V599.39ZM722.74 599.39V599.39H726.06V599.39ZM726.06 599.39V558.14H729.38V599.39ZM729.38 599.39V599.39H732.7V599.39ZM732.7 599.39V571.89H736.02V599.39ZM736.02 599.39V599.39H739.34V599.39ZM739.34 599.39V552.64H742.67V599.39ZM742.67 599.39V599.39H745.99V599.39ZM745.99 599.39V538.89H749.31V599.39ZM749.31 599.39V599.39H752.63V599.39ZM752.63 599.39V541.64H755.95V599.39ZM755.95 599.39V599.39H759.28V599.39ZM759.28 599.39V538.89H762.6V599.39ZM762.6 599.39V599.39H765.92V599.39ZM765.92 599.39V544.39H769.24V599.39ZM769.24 599.39V599.39H772.56V599.39ZM772.56 599.39V533.39H775.89V599.39ZM775.89 599.39V547.14H779.21V599.39ZM779.21 599.39V599.39H782.53V599.39ZM782.53 599.39V536.14H785.85V599.39ZM785.85 599.39V599.39H789.17V599.39ZM789.17 599.39V527.89H792.5V599.39ZM792.5 599.39V599.39H795.82V599.39ZM795.82 599.39V547.14H799.14V599.39ZM799.14 599.39V599.39H802.46V599.39ZM802.46 599.39V494.89H805.78V599.39ZM805.78 599.39V599.39H809.1V599.39ZM809.1 599.39V519.64H812.43V599.39ZM812.43 599.39V599.39H815.75V599.39ZM815.75 599.39V536.14H819.07V599.39ZM819.07 599.39V599.39H822.39V599.39ZM822.39 599.39V508.64H825.71V599.39ZM825.71 599.39V599.39H829.04V599.39ZM829.04 599.39V503.14H832.36V599.39ZM832.36 599.39V599.39H835.68V599.39ZM835.68 599.39V571.89H839V599.39ZM839 599.39V571.89H842.32V599.39ZM842.32 599.39V599.39H845.65V599.39ZM845.65 599.39V555.39H848.97V599.39ZM848.97 599.39V599.39H852.29V599.39ZM852.29 599.39V582.89H855.61V599.39ZM855.61 599.39V599.39H858.93V599.39ZM858.93 599.39V574.64H862.26V599.39ZM862.26 599.39V599.39H865.58V599.39ZM865.58 599.39V585.64H868.9V599.39ZM868.9 599.39V599.39H872.22V599.39ZM872.22 599.39V580.14H875.54V599.39ZM875.54 599.39V599.39H878.86V599.39ZM878.86 599.39V591.14H882.19V599.39ZM882.19 599.39V599.39H885.51V599.39ZM885.51 599.39V588.39H888.83V599.39ZM888.83 599.39V599.39H892.15V599.39ZM892.15 599.39V591.14H895.47V599.39ZM895.47 599.39V596.64H898.8V599.39ZM898.8 599.39V599.39H902.12V599.39ZM902.12 599.39V596.64H905.44V599.39ZM905.44 599.39V599.39H908.76V599.39ZM908.76 599.39V596.64H912.08V599.39ZM912.08 599.39V599.39H915.41V599.39ZM915.41 599.39V599.39H918.73V599.39ZM918.73 599.39V599.39H922.05V599.39ZM922.05 599.39V596.64H925.37V599.39ZM925.37 599.39V599.39H928.69V599.39ZM928.69 599.39V596.64H932.02V599.39ZM932.02 599.39V599.39H935.34V599.39ZM935.34 599.39V599.39H938.66V599.39ZM938.66 599.39V599.39H941.98V599.39ZM941.98 599.39V599.39H945.3V599.39ZM945.3 599.39V599.39H948.62V599.39ZM948.62 599.39V599.39H951.95V599.39ZM951.95 599.39V599.39H955.27V599.39ZM955.27 599.39V599.39H958.59V599.39ZM958.59 599.39V599.39H961.91V599.39ZM961.91 599.39V599.39H965.23V599.39ZM965.23 599.39V599.39H968.56V599.39ZM968.56 599.39V599.39H971.88V599.39ZM971.88 599.39V596.64H975.2V599.39Z" fill="none" stroke="#000" stroke-width="1.6" stroke-linejoin="miter"/><path d="M662.94 603.59H928.69M612.2 599.39V516.89" fill="none" stroke="#000" stroke-width="1.6" stroke-linecap="square"/><path d="M662.94 603.59V613.99M729.38 603.59V613.99M795.82 603.59V613.99M862.26 603.59V613.99M928.69 603.59V613.99M601.9 599.39H612.2M601.9 571.89H612.2M601.9 544.39H612.2M601.9 516.89H612.2" fill="none" stroke="#000" stroke-width="1.6"/><text x="662.94" y="639.54" font-size="16.8" text-anchor="middle">0.84</text><text x="729.38" y="639.54" font-size="16.8" text-anchor="middle">0.86</text><text x="795.82" y="639.54" font-size="16.8" text-anchor="middle">0.88</text><text x="862.26" y="639.54" font-size="16.8" text-anchor="middle">0.90</text><text x="928.69" y="639.54" font-size="16.8" text-anchor="middle">0.92</text><text transform="translate(588.6 599.39) rotate(-90)" font-size="16.8" text-anchor="middle">0</text><text transform="translate(588.6 544.39) rotate(-90)" font-size="16.8" text-anchor="middle">20</text><text transform="translate(548.2 547.19) rotate(-90)" font-size="16.8" text-anchor="middle">Frequency</text><text x="800.7" y="477.29" font-size="21.1" font-weight="bold" text-anchor="middle">Challenge6−Model(5)</text></g>
<g><path d="M125.7 816.26V798.84H129.37V816.26ZM129.37 816.26V816.26H133.04V816.26ZM133.04 816.26V816.26H136.71V816.26ZM136.71 816.26V816.26H140.39V816.26ZM140.39 816.26V816.26H144.06V816.26ZM144.06 816.26V816.26H147.73V816.26ZM147.73 816.26V816.26H151.4V816.26ZM151.4 816.26V816.26H155.07V816.26ZM155.07 816.26V816.26H158.74V816.26ZM158.74 816.26V816.26H162.42V816.26ZM162.42 816.26V816.26H166.09V816.26ZM166.09 816.26V816.26H169.76V816.26ZM169.76 816.26V816.26H173.43V816.26ZM173.43 816.26V798.84H177.1V816.26ZM177.1 816.26V816.26H180.77V816.26ZM180.77 816.26V816.26H184.45V816.26ZM184.45 816.26V816.26H188.12V816.26ZM188.12 816.26V798.84H191.79V816.26ZM191.79 816.26V816.26H195.46V816.26ZM195.46 816.26V816.26H199.13V816.26ZM199.13 816.26V816.26H202.8V816.26ZM202.8 816.26V816.26H206.47V816.26ZM206.47 816.26V816.26H210.15V816.26ZM210.15 816.26V816.26H213.82V816.26ZM213.82 816.26V816.26H217.49V816.26ZM217.49 816.26V816.26H221.16V816.26ZM221.16 816.26V816.26H224.83V816.26ZM224.83 816.26V816.26H228.5V816.26ZM228.5 816.26V816.26H232.18V816.26ZM232.18 816.26V816.26H235.85V816.26ZM235.85 816.26V816.26H239.52V816.26ZM239.52 816.26V816.26H243.19V816.26ZM243.19 816.26V764.01H246.86V816.26ZM246.86 816.26V816.26H250.53V816.26ZM250.53 816.26V816.26H254.21V816.26ZM254.21 816.26V798.84H257.88V816.26ZM257.88 816.26V816.26H261.55V816.26ZM261.55 816.26V764.01H265.22V816.26ZM265.22 816.26V816.26H268.89V816.26ZM268.89 816.26V816.26H272.56V816.26ZM272.56 816.26V816.26H276.23V816.26ZM276.23 816.26V798.84H279.91V816.26ZM279.91 816.26V816.26H283.58V816.26ZM283.58 816.26V798.84H287.25V816.26ZM287.25 816.26V816.26H290.92V816.26ZM290.92 816.26V781.43H294.59V816.26ZM294.59 816.26V816.26H298.26V816.26ZM298.26 816.26V781.43H301.94V816.26ZM301.94 816.26V816.26H305.61V816.26ZM305.61 816.26V816.26H309.28V816.26ZM309.28 816.26V816.26H312.95V816.26ZM312.95 816.26V816.26H316.62V816.26ZM316.62 816.26V816.26H320.29V816.26ZM320.29 816.26V764.01H323.97V816.26ZM323.97 816.26V781.43H327.64V816.26ZM327.64 816.26V816.26H331.31V816.26ZM331.31 816.26V816.26H334.98V816.26ZM334.98 816.26V816.26H338.65V816.26ZM338.65 816.26V711.76H342.32V816.26ZM342.32 816.26V816.26H345.99V816.26ZM345.99 816.26V816.26H349.67V816.26ZM349.67 816.26V816.26H353.34V816.26ZM353.34 816.26V798.84H357.01V816.26ZM357.01 816.26V816.26H360.68V816.26ZM360.68 816.26V781.43H364.35V816.26ZM364.35 816.26V816.26H368.02V816.26ZM368.02 816.26V711.76H371.7V816.26ZM371.7 816.26V816.26H375.37V816.26ZM375.37 816.26V798.84H379.04V816.26ZM379.04 816.26V816.26H382.71V816.26ZM382.71 816.26V781.43H386.38V816.26ZM386.38 816.26V781.43H390.05V816.26ZM390.05 816.26V816.26H393.73V816.26ZM393.73 816.26V798.84H397.4V816.26ZM397.4 816.26V816.26H401.07V816.26ZM401.07 816.26V798.84H404.74V816.26ZM404.74 816.26V816.26H408.41V816.26ZM408.41 816.26V798.84H412.08V816.26ZM412.08 816.26V816.26H415.75V816.26ZM415.75 816.26V798.84H419.43V816.26ZM419.43 816.26V816.26H423.1V816.26ZM423.1 816.26V798.84H426.77V816.26ZM426.77 816.26V816.26H430.44V816.26ZM430.44 816.26V711.76H434.11V816.26ZM434.11 816.26V816.26H437.78V816.26ZM437.78 816.26V764.01H441.46V816.26ZM441.46 816.26V816.26H445.13V816.26ZM445.13 816.26V781.43H448.8V816.26ZM448.8 816.26V816.26H452.47V816.26ZM452.47 816.26V798.84H456.14V816.26ZM456.14 816.26V746.59H459.81V816.26ZM459.81 816.26V816.26H463.49V816.26ZM463.49 816.26V798.84H467.16V816.26ZM467.16 816.26V816.26H470.83V816.26ZM470.83 816.26V781.43H474.5V816.26Z" fill="none" stroke="#000" stroke-width="1.6" stroke-linejoin="miter"/><path d="M144.06 820.46H437.78M111.5 816.26V711.76" fill="none" stroke="#000" stroke-width="1.6" stroke-linecap="square"/><path d="M144.06 820.46V830.86M217.49 820.46V830.86M290.92 820.46V830.86M364.35 820.46V830.86M437.78 820.46V830.86M101.2 816.26H111.5M101.2 798.84H111.5M101.2 781.43H111.5M101.2 764.01H111.5M101.2 746.59H111.5M101.2 729.18H111.5M101.2 711.76H111.5" fill="none" stroke="#000" stroke-width="1.6"/><text x="144.06" y="856.41" font-size="16.8" text-anchor="middle">0.88</text><text x="217.49" y="856.41" font-size="16.8" text-anchor="middle">0.90</text><text x="290.92" y="856.41" font-size="16.8" text-anchor="middle">0.92</text><text x="364.35" y="856.41" font-size="16.8" text-anchor="middle">0.94</text><text x="437.78" y="856.41" font-size="16.8" text-anchor="middle">0.96</text><text transform="translate(87.9 816.26) rotate(-90)" font-size="16.8" text-anchor="middle">0</text><text transform="translate(87.9 781.43) rotate(-90)" font-size="16.8" text-anchor="middle">2</text><text transform="translate(87.9 746.59) rotate(-90)" font-size="16.8" text-anchor="middle">4</text><text transform="translate(87.9 711.76) rotate(-90)" font-size="16.8" text-anchor="middle">6</text><text transform="translate(47.5 764.06) rotate(-90)" font-size="16.8" text-anchor="middle">Frequency</text><text x="300" y="694.16" font-size="21.1" font-weight="bold" text-anchor="middle">Challenge10−Model(1)</text></g>
<g><path d="M626.4 816.26V801.33H630.65V816.26ZM630.65 816.26V816.26H634.91V816.26ZM634.91 816.26V786.4H639.16V816.26ZM639.16 816.26V816.26H643.41V816.26ZM643.41 816.26V816.26H647.67V816.26ZM647.67 816.26V816.26H651.92V816.26ZM651.92 816.26V801.33H656.18V816.26ZM656.18 816.26V801.33H660.43V816.26ZM660.43 816.26V816.26H664.68V816.26ZM664.68 816.26V801.33H668.94V816.26ZM668.94 816.26V816.26H673.19V816.26ZM673.19 816.26V816.26H677.44V816.26ZM677.44 816.26V816.26H681.7V816.26ZM681.7 816.26V816.26H685.95V816.26ZM685.95 816.26V816.26H690.2V816.26ZM690.2 816.26V816.26H694.46V816.26ZM694.46 816.26V816.26H698.71V816.26ZM698.71 816.26V816.26H702.97V816.26ZM702.97 816.26V816.26H707.22V816.26ZM707.22 816.26V816.26H711.47V816.26ZM711.47 816.26V816.26H715.73V816.26ZM715.73 816.26V786.4H719.98V816.26ZM719.98 816.26V816.26H724.23V816.26ZM724.23 816.26V771.47H728.49V816.26ZM728.49 816.26V786.4H732.74V816.26ZM732.74 816.26V816.26H737V816.26ZM737 816.26V816.26H741.25V816.26ZM741.25 816.26V816.26H745.5V816.26ZM745.5 816.26V816.26H749.76V816.26ZM749.76 816.26V816.26H754.01V816.26ZM754.01 816.26V816.26H758.26V816.26ZM758.26 816.26V816.26H762.52V816.26ZM762.52 816.26V771.47H766.77V816.26ZM766.77 816.26V816.26H771.02V816.26ZM771.02 816.26V801.33H775.28V816.26ZM775.28 816.26V816.26H779.53V816.26ZM779.53 816.26V801.33H783.79V816.26ZM783.79 816.26V816.26H788.04V816.26ZM788.04 816.26V801.33H792.29V816.26ZM792.29 816.26V816.26H796.55V816.26ZM796.55 816.26V801.33H800.8V816.26ZM800.8 816.26V816.26H805.05V816.26ZM805.05 816.26V786.4H809.31V816.26ZM809.31 816.26V786.4H813.56V816.26ZM813.56 816.26V816.26H817.81V816.26ZM817.81 816.26V801.33H822.07V816.26ZM822.07 816.26V816.26H826.32V816.26ZM826.32 816.26V786.4H830.58V816.26ZM830.58 816.26V816.26H834.83V816.26ZM834.83 816.26V801.33H839.08V816.26ZM839.08 816.26V816.26H843.34V816.26ZM843.34 816.26V741.62H847.59V816.26ZM847.59 816.26V816.26H851.84V816.26ZM851.84 816.26V711.76H856.1V816.26ZM856.1 816.26V816.26H860.35V816.26ZM860.35 816.26V801.33H864.6V816.26ZM864.6 816.26V816.26H868.86V816.26ZM868.86 816.26V786.4H873.11V816.26ZM873.11 816.26V816.26H877.37V816.26ZM877.37 816.26V741.62H881.62V816.26ZM881.62 816.26V771.47H885.87V816.26ZM885.87 816.26V816.26H890.13V816.26ZM890.13 816.26V801.33H894.38V816.26ZM894.38 816.26V816.26H898.63V816.26ZM898.63 816.26V726.69H902.89V816.26ZM902.89 816.26V816.26H907.14V816.26ZM907.14 816.26V786.4H911.4V816.26ZM911.4 816.26V816.26H915.65V816.26ZM915.65 816.26V801.33H919.9V816.26ZM919.9 816.26V816.26H924.16V816.26ZM924.16 816.26V786.4H928.41V816.26ZM928.41 816.26V816.26H932.66V816.26ZM932.66 816.26V801.33H936.92V816.26ZM936.92 816.26V816.26H941.17V816.26ZM941.17 816.26V816.26H945.42V816.26ZM945.42 816.26V816.26H949.68V816.26ZM949.68 816.26V816.26H953.93V816.26ZM953.93 816.26V816.26H958.19V816.26ZM958.19 816.26V816.26H962.44V816.26ZM962.44 816.26V816.26H966.69V816.26ZM966.69 816.26V816.26H970.95V816.26ZM970.95 816.26V801.33H975.2V816.26Z" fill="none" stroke="#000" stroke-width="1.6" stroke-linejoin="miter"/><path d="M685.95 820.46H941.17M612.2 816.26V711.76" fill="none" stroke="#000" stroke-width="1.6" stroke-linecap="square"/><path d="M685.95 820.46V830.86M771.02 820.46V830.86M856.1 820.46V830.86M941.17 820.46V830.86M601.9 816.26H612.2M601.9 801.33H612.2M601.9 786.4H612.2M601.9 771.47H612.2M601.9 756.55H612.2M601.9 741.62H612.2M601.9 726.69H612.2M601.9 711.76H612.2" fill="none" stroke="#000" stroke-width="1.6"/><text x="685.95" y="856.41" font-size="16.8" text-anchor="middle">0.90</text><text x="771.02" y="856.41" font-size="16.8" text-anchor="middle">0.92</text><text x="856.1" y="856.41" font-size="16.8" text-anchor="middle">0.94</text><text x="941.17" y="856.41" font-size="16.8" text-anchor="middle">0.96</text><text transform="translate(588.6 816.26) rotate(-90)" font-size="16.8" text-anchor="middle">0</text><text transform="translate(588.6 786.4) rotate(-90)" font-size="16.8" text-anchor="middle">2</text><text transform="translate(588.6 756.55) rotate(-90)" font-size="16.8" text-anchor="middle">4</text><text transform="translate(588.6 726.69) rotate(-90)" font-size="16.8" text-anchor="middle">6</text><text transform="translate(548.2 764.06) rotate(-90)" font-size="16.8" text-anchor="middle">Frequency</text><text x="800.7" y="694.16" font-size="21.1" font-weight="bold" text-anchor="middle">Challenge11−Model(1)</text></g>
<g><path d="M125.7 1033.13V1018.2H129.58V1033.13ZM129.58 1033.13V1033.13H133.45V1033.13ZM133.45 1033.13V1033.13H137.33V1033.13ZM137.33 1033.13V1033.13H141.2V1033.13ZM141.2 1033.13V1033.13H145.08V1033.13ZM145.08 1033.13V1033.13H148.95V1033.13ZM148.95 1033.13V1003.27H152.83V1033.13ZM152.83 1033.13V1033.13H156.7V1033.13ZM156.7 1033.13V1033.13H160.58V1033.13ZM160.58 1033.13V1033.13H164.46V1033.13ZM164.46 1033.13V1033.13H168.33V1033.13ZM168.33 1033.13V1033.13H172.21V1033.13ZM172.21 1033.13V1033.13H176.08V1033.13ZM176.08 1033.13V1003.27H179.96V1033.13ZM179.96 1033.13V1033.13H183.83V1033.13ZM183.83 1033.13V1018.2H187.71V1033.13ZM187.71 1033.13V1033.13H191.58V1033.13ZM191.58 1033.13V1033.13H195.46V1033.13ZM195.46 1033.13V1033.13H199.34V1033.13ZM199.34 1033.13V1018.2H203.21V1033.13ZM203.21 1033.13V1033.13H207.09V1033.13ZM207.09 1033.13V1003.27H210.96V1033.13ZM210.96 1033.13V1033.13H214.84V1033.13ZM214.84 1033.13V1033.13H218.71V1033.13ZM218.71 1033.13V928.63H222.59V1033.13ZM222.59 1033.13V1033.13H226.46V1033.13ZM226.46 1033.13V988.34H230.34V1033.13ZM230.34 1033.13V1033.13H234.22V1033.13ZM234.22 1033.13V1003.27H238.09V1033.13ZM238.09 1033.13V1033.13H241.97V1033.13ZM241.97 1033.13V1003.27H245.84V1033.13ZM245.84 1033.13V1033.13H249.72V1033.13ZM249.72 1033.13V973.42H253.59V1033.13ZM253.59 1033.13V1033.13H257.47V1033.13ZM257.47 1033.13V973.42H261.34V1033.13ZM261.34 1033.13V1033.13H265.22V1033.13ZM265.22 1033.13V1033.13H269.1V1033.13ZM269.1 1033.13V1033.13H272.97V1033.13ZM272.97 1033.13V1033.13H276.85V1033.13ZM276.85 1033.13V1033.13H280.72V1033.13ZM280.72 1033.13V1003.27H284.6V1033.13ZM284.6 1033.13V1033.13H288.47V1033.13ZM288.47 1033.13V988.34H292.35V1033.13ZM292.35 1033.13V958.49H296.22V1033.13ZM296.22 1033.13V1033.13H300.1V1033.13ZM300.1 1033.13V1003.27H303.98V1033.13ZM303.98 1033.13V1033.13H307.85V1033.13ZM307.85 1033.13V1018.2H311.73V1033.13ZM311.73 1033.13V1033.13H315.6V1033.13ZM315.6 1033.13V958.49H319.48V1033.13ZM319.48 1033.13V1033.13H323.35V1033.13ZM323.35 1033.13V1033.13H327.23V1033.13ZM327.23 1033.13V1033.13H331.1V1033.13ZM331.1 1033.13V988.34H334.98V1033.13ZM334.98 1033.13V1033.13H338.86V1033.13ZM338.86 1033.13V1003.27H342.73V1033.13ZM342.73 1033.13V1033.13H346.61V1033.13ZM346.61 1033.13V988.34H350.48V1033.13ZM350.48 1033.13V1033.13H354.36V1033.13ZM354.36 1033.13V1033.13H358.23V1033.13ZM358.23 1033.13V1018.2H362.11V1033.13ZM362.11 1033.13V1033.13H365.98V1033.13ZM365.98 1033.13V1018.2H369.86V1033.13ZM369.86 1033.13V1033.13H373.74V1033.13ZM373.74 1033.13V1033.13H377.61V1033.13ZM377.61 1033.13V1033.13H381.49V1033.13ZM381.49 1033.13V1003.27H385.36V1033.13ZM385.36 1033.13V1033.13H389.24V1033.13ZM389.24 1033.13V1033.13H393.11V1033.13ZM393.11 1033.13V1033.13H396.99V1033.13ZM396.99 1033.13V1033.13H400.86V1033.13ZM400.86 1033.13V1033.13H404.74V1033.13ZM404.74 1033.13V1033.13H408.62V1033.13ZM408.62 1033.13V1033.13H412.49V1033.13ZM412.49 1033.13V1033.13H416.37V1033.13ZM416.37 1033.13V1033.13H420.24V1033.13ZM420.24 1033.13V1033.13H424.12V1033.13ZM424.12 1033.13V1033.13H427.99V1033.13ZM427.99 1033.13V1033.13H431.87V1033.13ZM431.87 1033.13V1033.13H435.74V1033.13ZM435.74 1033.13V1033.13H439.62V1033.13ZM439.62 1033.13V1033.13H443.5V1033.13ZM443.5 1033.13V1033.13H447.37V1033.13ZM447.37 1033.13V1018.2H451.25V1033.13ZM451.25 1033.13V1033.13H455.12V1033.13ZM455.12 1033.13V1033.13H459V1033.13ZM459 1033.13V1033.13H462.87V1033.13ZM462.87 1033.13V1018.2H466.75V1033.13ZM466.75 1033.13V1033.13H470.62V1033.13ZM470.62 1033.13V1003.27H474.5V1033.13Z" fill="none" stroke="#000" stroke-width="1.6" stroke-linejoin="miter"/><path d="M164.46 1037.33H474.5M111.5 1033.13V928.63" fill="none" stroke="#000" stroke-width="1.6" stroke-linecap="square"/><path d="M164.46 1037.33V1047.73M241.97 1037.33V1047.73M319.48 1037.33V1047.73M396.99 1037.33V1047.73M474.5 1037.33V1047.73M101.2 1033.13H111.5M101.2 1018.2H111.5M101.2 1003.27H111.5M101.2 988.34H111.5M101.2 973.42H111.5M101.2 958.49H111.5M101.2 943.56H111.5M101.2 928.63H111.5" fill="none" stroke="#000" stroke-width="1.6"/><text x="164.46" y="1073.28" font-size="16.8" text-anchor="middle">0.86</text><text x="241.97" y="1073.28" font-size="16.8" text-anchor="middle">0.88</text><text x="319.48" y="1073.28" font-size="16.8" text-anchor="middle">0.90</text><text x="396.99" y="1073.28" font-size="16.8" text-anchor="middle">0.92</text><text x="474.5" y="1073.28" font-size="16.8" text-anchor="middle">0.94</text><text transform="translate(87.9 1033.13) rotate(-90)" font-size="16.8" text-anchor="middle">0</text><text transform="translate(87.9 1003.27) rotate(-90)" font-size="16.8" text-anchor="middle">2</text><text transform="translate(87.9 973.42) rotate(-90)" font-size="16.8" text-anchor="middle">4</text><text transform="translate(87.9 943.56) rotate(-90)" font-size="16.8" text-anchor="middle">6</text><text transform="translate(47.5 980.93) rotate(-90)" font-size="16.8" text-anchor="middle">Frequency</text><text x="300" y="911.03" font-size="21.1" font-weight="bold" text-anchor="middle">Challenge12−Model(1)</text></g>
<g><path d="M626.4 1033.13V1024.42H628.91V1033.13ZM628.91 1033.13V1033.13H631.42V1033.13ZM631.42 1033.13V1033.13H633.93V1033.13ZM633.93 1033.13V1033.13H636.44V1033.13ZM636.44 1033.13V1033.13H638.95V1033.13ZM638.95 1033.13V1033.13H641.46V1033.13ZM641.46 1033.13V1024.42H643.97V1033.13ZM643.97 1033.13V1024.42H646.47V1033.13ZM646.47 1033.13V1033.13H648.98V1033.13ZM648.98 1033.13V1033.13H651.49V1033.13ZM651.49 1033.13V1033.13H654V1033.13ZM654 1033.13V1033.13H656.51V1033.13ZM656.51 1033.13V1033.13H659.02V1033.13ZM659.02 1033.13V1024.42H661.53V1033.13ZM661.53 1033.13V1033.13H664.04V1033.13ZM664.04 1033.13V1033.13H666.55V1033.13ZM666.55 1033.13V1033.13H669.06V1033.13ZM669.06 1033.13V1024.42H671.57V1033.13ZM671.57 1033.13V1033.13H674.08V1033.13ZM674.08 1033.13V1024.42H676.59V1033.13ZM676.59 1033.13V1033.13H679.1V1033.13ZM679.1 1033.13V1015.71H681.61V1033.13ZM681.61 1033.13V1033.13H684.12V1033.13ZM684.12 1033.13V1033.13H686.62V1033.13ZM686.62 1033.13V1033.13H689.13V1033.13ZM689.13 1033.13V1015.71H691.64V1033.13ZM691.64 1033.13V1024.42H694.15V1033.13ZM694.15 1033.13V1033.13H696.66V1033.13ZM696.66 1033.13V1033.13H699.17V1033.13ZM699.17 1033.13V1033.13H701.68V1033.13ZM701.68 1033.13V1015.71H704.19V1033.13ZM704.19 1033.13V1033.13H706.7V1033.13ZM706.7 1033.13V1033.13H709.21V1033.13ZM709.21 1033.13V1033.13H711.72V1033.13ZM711.72 1033.13V1015.71H714.23V1033.13ZM714.23 1033.13V1033.13H716.74V1033.13ZM716.74 1033.13V1015.71H719.25V1033.13ZM719.25 1033.13V1033.13H721.76V1033.13ZM721.76 1033.13V1024.42H724.26V1033.13ZM724.26 1033.13V1033.13H726.77V1033.13ZM726.77 1033.13V1015.71H729.28V1033.13ZM729.28 1033.13V1033.13H731.79V1033.13ZM731.79 1033.13V1024.42H734.3V1033.13ZM734.3 1033.13V1015.71H736.81V1033.13ZM736.81 1033.13V1033.13H739.32V1033.13ZM739.32 1033.13V1024.42H741.83V1033.13ZM741.83 1033.13V1033.13H744.34V1033.13ZM744.34 1033.13V998.3H746.85V1033.13ZM746.85 1033.13V1033.13H749.36V1033.13ZM749.36 1033.13V1024.42H751.87V1033.13ZM751.87 1033.13V1033.13H754.38V1033.13ZM754.38 1033.13V1024.42H756.89V1033.13ZM756.89 1033.13V1033.13H759.4V1033.13ZM759.4 1033.13V998.3H761.91V1033.13ZM761.91 1033.13V1033.13H764.41V1033.13ZM764.41 1033.13V1007.01H766.92V1033.13ZM766.92 1033.13V1033.13H769.43V1033.13ZM769.43 1033.13V1007.01H771.94V1033.13ZM771.94 1033.13V1033.13H774.45V1033.13ZM774.45 1033.13V1007.01H776.96V1033.13ZM776.96 1033.13V980.88H779.47V1033.13ZM779.47 1033.13V1033.13H781.98V1033.13ZM781.98 1033.13V1015.71H784.49V1033.13ZM784.49 1033.13V1033.13H787V1033.13ZM787 1033.13V972.17H789.51V1033.13ZM789.51 1033.13V1033.13H792.02V1033.13ZM792.02 1033.13V972.17H794.53V1033.13ZM794.53 1033.13V1033.13H797.04V1033.13ZM797.04 1033.13V1024.42H799.55V1033.13ZM799.55 1033.13V1033.13H802.05V1033.13ZM802.05 1033.13V989.59H804.56V1033.13ZM804.56 1033.13V1033.13H807.07V1033.13ZM807.07 1033.13V980.88H809.58V1033.13ZM809.58 1033.13V1033.13H812.09V1033.13ZM812.09 1033.13V989.59H814.6V1033.13ZM814.6 1033.13V1033.13H817.11V1033.13ZM817.11 1033.13V946.05H819.62V1033.13ZM819.62 1033.13V1033.13H822.13V1033.13ZM822.13 1033.13V989.59H824.64V1033.13ZM824.64 1033.13V972.17H827.15V1033.13ZM827.15 1033.13V1033.13H829.66V1033.13ZM829.66 1033.13V980.88H832.17V1033.13ZM832.17 1033.13V1033.13H834.68V1033.13ZM834.68 1033.13V954.76H837.19V1033.13ZM837.19 1033.13V1033.13H839.69V1033.13ZM839.69 1033.13V972.17H842.2V1033.13ZM842.2 1033.13V1033.13H844.71V1033.13ZM844.71 1033.13V998.3H847.22V1033.13ZM847.22 1033.13V1033.13H849.73V1033.13ZM849.73 1033.13V989.59H852.24V1033.13ZM852.24 1033.13V1033.13H854.75V1033.13ZM854.75 1033.13V972.17H857.26V1033.13ZM857.26 1033.13V1033.13H859.77V1033.13ZM859.77 1033.13V989.59H862.28V1033.13ZM862.28 1033.13V1033.13H864.79V1033.13ZM864.79 1033.13V928.63H867.3V1033.13ZM867.3 1033.13V963.46H869.81V1033.13ZM869.81 1033.13V1033.13H872.32V1033.13ZM872.32 1033.13V1015.71H874.83V1033.13ZM874.83 1033.13V1033.13H877.34V1033.13ZM877.34 1033.13V980.88H879.84V1033.13ZM879.84 1033.13V1033.13H882.35V1033.13ZM882.35 1033.13V989.59H884.86V1033.13ZM884.86 1033.13V1033.13H887.37V1033.13ZM887.37 1033.13V963.46H889.88V1033.13ZM889.88 1033.13V1033.13H892.39V1033.13ZM892.39 1033.13V1015.71H894.9V1033.13ZM894.9 1033.13V1033.13H897.41V1033.13ZM897.41 1033.13V998.3H899.92V1033.13ZM899.92 1033.13V1033.13H902.43V1033.13ZM902.43 1033.13V989.59H904.94V1033.13ZM904.94 1033.13V1033.13H907.45V1033.13ZM907.45 1033.13V1024.42H909.96V1033.13ZM909.96 1033.13V1033.13H912.47V1033.13ZM912.47 1033.13V980.88H914.98V1033.13ZM914.98 1033.13V989.59H917.48V1033.13ZM917.48 1033.13V1033.13H919.99V1033.13ZM919.99 1033.13V1033.13H922.5V1033.13ZM922.5 1033.13V1033.13H925.01V1033.13ZM925.01 1033.13V1015.71H927.52V1033.13ZM927.52 1033.13V1033.13H930.03V1033.13ZM930.03 1033.13V998.3H932.54V1033.13ZM932.54 1033.13V1033.13H935.05V1033.13ZM935.05 1033.13V1015.71H937.56V1033.13ZM937.56 1033.13V1033.13H940.07V1033.13ZM940.07 1033.13V1024.42H942.58V1033.13ZM942.58 1033.13V1033.13H945.09V1033.13ZM945.09 1033.13V1024.42H947.6V1033.13ZM947.6 1033.13V1033.13H950.11V1033.13ZM950.11 1033.13V1033.13H952.62V1033.13ZM952.62 1033.13V1033.13H955.13V1033.13ZM955.13 1033.13V1024.42H957.63V1033.13ZM957.63 1033.13V1015.71H960.14V1033.13ZM960.14 1033.13V1033.13H962.65V1033.13ZM962.65 1033.13V1033.13H965.16V1033.13ZM965.16 1033.13V1033.13H967.67V1033.13ZM967.67 1033.13V1033.13H970.18V1033.13ZM970.18 1033.13V1033.13H972.69V1033.13ZM972.69 1033.13V1024.42H975.2V1033.13Z" fill="none" stroke="#000" stroke-width="1.6" stroke-linejoin="miter"/><path d="M641.46 1037.33H942.58M612.2 1033.13V928.63" fill="none" stroke="#000" stroke-width="1.6" stroke-linecap="square"/><path d="M641.46 1037.33V1047.73M691.64 1037.33V1047.73M741.83 1037.33V1047.73M792.02 1037.33V1047.73M842.2 1037.33V1047.73M892.39 1037.33V1047.73M942.58 1037.33V1047.73M601.9 1033.13H612.2M601.9 1015.71H612.2M601.9 998.3H612.2M601.9 980.88H612.2M601.9 963.46H612.2M601.9 946.05H612.2M601.9 928.63H612.2" fill="none" stroke="#000" stroke-width="1.6"/><text x="641.46" y="1073.28" font-size="16.8" text-anchor="middle">0.82</text><text x="691.64" y="1073.28" font-size="16.8" text-anchor="middle">0.84</text><text x="741.83" y="1073.28" font-size="16.8" text-anchor="middle">0.86</text><text x="792.02" y="1073.28" font-size="16.8" text-anchor="middle">0.88</text><text x="842.2" y="1073.28" font-size="16.8" text-anchor="middle">0.90</text><text x="892.39" y="1073.28" font-size="16.8" text-anchor="middle">0.92</text><text x="942.58" y="1073.28" font-size="16.8" text-anchor="middle">0.94</text><text transform="translate(588.6 1033.13) rotate(-90)" font-size="16.8" text-anchor="middle">0</text><text transform="translate(588.6 998.3) rotate(-90)" font-size="16.8" text-anchor="middle">4</text><text transform="translate(588.6 963.46) rotate(-90)" font-size="16.8" text-anchor="middle">8</text><text transform="translate(588.6 928.63) rotate(-90)" font-size="16.8" text-anchor="middle">12</text><text transform="translate(548.2 980.93) rotate(-90)" font-size="16.8" text-anchor="middle">Frequency</text><text x="800.7" y="911.03" font-size="21.1" font-weight="bold" text-anchor="middle">Challenge13−Model(4)</text></g>
<g><path d="M125.7 1250V1236.94H128.93V1250ZM128.93 1250V1250H132.16V1250ZM132.16 1250V1250H135.39V1250ZM135.39 1250V1250H138.62V1250ZM138.62 1250V1250H141.85V1250ZM141.85 1250V1250H145.08V1250ZM145.08 1250V1250H148.31V1250ZM148.31 1250V1250H151.54V1250ZM151.54 1250V1250H154.77V1250ZM154.77 1250V1250H158V1250ZM158 1250V1250H161.23V1250ZM161.23 1250V1250H164.46V1250ZM164.46 1250V1250H167.69V1250ZM167.69 1250V1250H170.91V1250ZM170.91 1250V1250H174.14V1250ZM174.14 1250V1236.94H177.37V1250ZM177.37 1250V1250H180.6V1250ZM180.6 1250V1236.94H183.83V1250ZM183.83 1250V1250H187.06V1250ZM187.06 1250V1250H190.29V1250ZM190.29 1250V1210.81H193.52V1250ZM193.52 1250V1250H196.75V1250ZM196.75 1250V1236.94H199.98V1250ZM199.98 1250V1250H203.21V1250ZM203.21 1250V1236.94H206.44V1250ZM206.44 1250V1250H209.67V1250ZM209.67 1250V1236.94H212.9V1250ZM212.9 1250V1250H216.13V1250ZM216.13 1250V1250H219.36V1250ZM219.36 1250V1250H222.59V1250ZM222.59 1250V1236.94H225.82V1250ZM225.82 1250V1250H229.05V1250ZM229.05 1250V1223.88H232.28V1250ZM232.28 1250V1250H235.51V1250ZM235.51 1250V1223.88H238.74V1250ZM238.74 1250V1250H241.97V1250ZM241.97 1250V1250H245.2V1250ZM245.2 1250V1223.88H248.43V1250ZM248.43 1250V1250H251.66V1250ZM251.66 1250V1250H254.89V1250ZM254.89 1250V1250H258.11V1250ZM258.11 1250V1250H261.34V1250ZM261.34 1250V1250H264.57V1250ZM264.57 1250V1210.81H267.8V1250ZM267.8 1250V1250H271.03V1250ZM271.03 1250V1223.88H274.26V1250ZM274.26 1250V1250H277.49V1250ZM277.49 1250V1210.81H280.72V1250ZM280.72 1250V1250H283.95V1250ZM283.95 1250V1236.94H287.18V1250ZM287.18 1250V1250H290.41V1250ZM290.41 1250V1236.94H293.64V1250ZM293.64 1250V1250H296.87V1250ZM296.87 1250V1236.94H300.1V1250ZM300.1 1250V1197.75H303.33V1250ZM303.33 1250V1250H306.56V1250ZM306.56 1250V1250H309.79V1250ZM309.79 1250V1250H313.02V1250ZM313.02 1250V1223.88H316.25V1250ZM316.25 1250V1250H319.48V1250ZM319.48 1250V1145.5H322.71V1250ZM322.71 1250V1250H325.94V1250ZM325.94 1250V1236.94H329.17V1250ZM329.17 1250V1250H332.4V1250ZM332.4 1250V1197.75H335.63V1250ZM335.63 1250V1250H338.86V1250ZM338.86 1250V1197.75H342.09V1250ZM342.09 1250V1250H345.31V1250ZM345.31 1250V1210.81H348.54V1250ZM348.54 1250V1250H351.77V1250ZM351.77 1250V1223.88H355V1250ZM355 1250V1250H358.23V1250ZM358.23 1250V1210.81H361.46V1250ZM361.46 1250V1223.88H364.69V1250ZM364.69 1250V1250H367.92V1250ZM367.92 1250V1197.75H371.15V1250ZM371.15 1250V1250H374.38V1250ZM374.38 1250V1250H377.61V1250ZM377.61 1250V1250H380.84V1250ZM380.84 1250V1236.94H384.07V1250ZM384.07 1250V1250H387.3V1250ZM387.3 1250V1223.88H390.53V1250ZM390.53 1250V1250H393.76V1250ZM393.76 1250V1236.94H396.99V1250ZM396.99 1250V1250H400.22V1250ZM400.22 1250V1250H403.45V1250ZM403.45 1250V1250H406.68V1250ZM406.68 1250V1197.75H409.91V1250ZM409.91 1250V1250H413.14V1250ZM413.14 1250V1236.94H416.37V1250ZM416.37 1250V1210.81H419.6V1250ZM419.6 1250V1250H422.83V1250ZM422.83 1250V1184.69H426.06V1250ZM426.06 1250V1250H429.29V1250ZM429.29 1250V1250H432.51V1250ZM432.51 1250V1250H435.74V1250ZM435.74 1250V1236.94H438.97V1250ZM438.97 1250V1250H442.2V1250ZM442.2 1250V1250H445.43V1250ZM445.43 1250V1250H448.66V1250ZM448.66 1250V1236.94H451.89V1250ZM451.89 1250V1250H455.12V1250ZM455.12 1250V1250H458.35V1250ZM458.35 1250V1250H461.58V1250ZM461.58 1250V1250H464.81V1250ZM464.81 1250V1250H468.04V1250ZM468.04 1250V1250H471.27V1250ZM471.27 1250V1210.81H474.5V1250Z" fill="none" stroke="#000" stroke-width="1.6" stroke-linejoin="miter"/><path d="M151.54 1254.2H474.5M111.5 1250V1145.5" fill="none" stroke="#000" stroke-width="1.6" stroke-linecap="square"/><path d="M151.54 1254.2V1264.6M216.13 1254.2V1264.6M280.72 1254.2V1264.6M345.31 1254.2V1264.6M409.91 1254.2V1264.6M474.5 1254.2V1264.6M101.2 1250H111.5M101.2 1223.88H111.5M101.2 1197.75H111.5M101.2 1171.62H111.5M101.2 1145.5H111.5" fill="none" stroke="#000" stroke-width="1.6"/><text x="151.54" y="1290.15" font-size="16.8" text-anchor="middle">0.90</text><text x="216.13" y="1290.15" font-size="16.8" text-anchor="middle">0.92</text><text x="280.72" y="1290.15" font-size="16.8" text-anchor="middle">0.94</text><text x="345.31" y="1290.15" font-size="16.8" text-anchor="middle">0.96</text><text x="409.91" y="1290.15" font-size="16.8" text-anchor="middle">0.98</text><text x="474.5" y="1290.15" font-size="16.8" text-anchor="middle">1.00</text><text transform="translate(87.9 1250) rotate(-90)" font-size="16.8" text-anchor="middle">0</text><text transform="translate(87.9 1223.88) rotate(-90)" font-size="16.8" text-anchor="middle">2</text><text transform="translate(87.9 1197.75) rotate(-90)" font-size="16.8" text-anchor="middle">4</text><text transform="translate(87.9 1171.62) rotate(-90)" font-size="16.8" text-anchor="middle">6</text><text transform="translate(87.9 1145.5) rotate(-90)" font-size="16.8" text-anchor="middle">8</text><text transform="translate(47.5 1197.8) rotate(-90)" font-size="16.8" text-anchor="middle">Frequency</text><text x="300" y="1127.9" font-size="21.1" font-weight="bold" text-anchor="middle">Challenge14−Model(2)</text></g>
<g><path d="M626.4 1250V1240.5H629.19V1250ZM629.19 1250V1231H631.98V1250ZM631.98 1250V1250H634.77V1250ZM634.77 1250V1250H637.56V1250ZM637.56 1250V1250H640.35V1250ZM640.35 1250V1250H643.14V1250ZM643.14 1250V1250H645.93V1250ZM645.93 1250V1231H648.72V1250ZM648.72 1250V1250H651.51V1250ZM651.51 1250V1250H654.3V1250ZM654.3 1250V1250H657.09V1250ZM657.09 1250V1250H659.88V1250ZM659.88 1250V1250H662.68V1250ZM662.68 1250V1240.5H665.47V1250ZM665.47 1250V1250H668.26V1250ZM668.26 1250V1250H671.05V1250ZM671.05 1250V1250H673.84V1250ZM673.84 1250V1231H676.63V1250ZM676.63 1250V1221.5H679.42V1250ZM679.42 1250V1250H682.21V1250ZM682.21 1250V1250H685V1250ZM685 1250V1250H687.79V1250ZM687.79 1250V1240.5H690.58V1250ZM690.58 1250V1250H693.37V1250ZM693.37 1250V1250H696.16V1250ZM696.16 1250V1250H698.95V1250ZM698.95 1250V1240.5H701.74V1250ZM701.74 1250V1250H704.53V1250ZM704.53 1250V1212H707.32V1250ZM707.32 1250V1250H710.11V1250ZM710.11 1250V1231H712.9V1250ZM712.9 1250V1250H715.69V1250ZM715.69 1250V1221.5H718.48V1250ZM718.48 1250V1250H721.27V1250ZM721.27 1250V1231H724.06V1250ZM724.06 1250V1202.5H726.85V1250ZM726.85 1250V1250H729.64V1250ZM729.64 1250V1145.5H732.44V1250ZM732.44 1250V1250H735.23V1250ZM735.23 1250V1212H738.02V1250ZM738.02 1250V1250H740.81V1250ZM740.81 1250V1221.5H743.6V1250ZM743.6 1250V1250H746.39V1250ZM746.39 1250V1183.5H749.18V1250ZM749.18 1250V1250H751.97V1250ZM751.97 1250V1221.5H754.76V1250ZM754.76 1250V1250H757.55V1250ZM757.55 1250V1231H760.34V1250ZM760.34 1250V1250H763.13V1250ZM763.13 1250V1212H765.92V1250ZM765.92 1250V1250H768.71V1250ZM768.71 1250V1231H771.5V1250ZM771.5 1250V1250H774.29V1250ZM774.29 1250V1193H777.08V1250ZM777.08 1250V1193H779.87V1250ZM779.87 1250V1250H782.66V1250ZM782.66 1250V1221.5H785.45V1250ZM785.45 1250V1250H788.24V1250ZM788.24 1250V1250H791.03V1250ZM791.03 1250V1250H793.82V1250ZM793.82 1250V1240.5H796.61V1250ZM796.61 1250V1250H799.4V1250ZM799.4 1250V1221.5H802.2V1250ZM802.2 1250V1250H804.99V1250ZM804.99 1250V1250H807.78V1250ZM807.78 1250V1250H810.57V1250ZM810.57 1250V1240.5H813.36V1250ZM813.36 1250V1250H816.15V1250ZM816.15 1250V1250H818.94V1250ZM818.94 1250V1250H821.73V1250ZM821.73 1250V1250H824.52V1250ZM824.52 1250V1250H827.31V1250ZM827.31 1250V1250H830.1V1250ZM830.1 1250V1250H832.89V1250ZM832.89 1250V1250H835.68V1250ZM835.68 1250V1250H838.47V1250ZM838.47 1250V1250H841.26V1250ZM841.26 1250V1250H844.05V1250ZM844.05 1250V1250H846.84V1250ZM846.84 1250V1250H849.63V1250ZM849.63 1250V1250H852.42V1250ZM852.42 1250V1250H855.21V1250ZM855.21 1250V1250H858V1250ZM858 1250V1250H860.79V1250ZM860.79 1250V1250H863.58V1250ZM863.58 1250V1250H866.37V1250ZM866.37 1250V1250H869.16V1250ZM869.16 1250V1250H871.96V1250ZM871.96 1250V1250H874.75V1250ZM874.75 1250V1250H877.54V1250ZM877.54 1250V1250H880.33V1250ZM880.33 1250V1250H883.12V1250ZM883.12 1250V1250H885.91V1250ZM885.91 1250V1250H888.7V1250ZM888.7 1250V1250H891.49V1250ZM891.49 1250V1250H894.28V1250ZM894.28 1250V1250H897.07V1250ZM897.07 1250V1250H899.86V1250ZM899.86 1250V1250H902.65V1250ZM902.65 1250V1250H905.44V1250ZM905.44 1250V1250H908.23V1250ZM908.23 1250V1250H911.02V1250ZM911.02 1250V1250H913.81V1250ZM913.81 1250V1250H916.6V1250ZM916.6 1250V1250H919.39V1250ZM919.39 1250V1250H922.18V1250ZM922.18 1250V1250H924.97V1250ZM924.97 1250V1250H927.76V1250ZM927.76 1250V1250H930.55V1250ZM930.55 1250V1250H933.34V1250ZM933.34 1250V1250H936.13V1250ZM936.13 1250V1250H938.92V1250ZM938.92 1250V1250H941.72V1250ZM941.72 1250V1250H944.51V1250ZM944.51 1250V1250H947.3V1250ZM947.3 1250V1250H950.09V1250ZM950.09 1250V1250H952.88V1250ZM952.88 1250V1250H955.67V1250ZM955.67 1250V1250H958.46V1250ZM958.46 1250V1250H961.25V1250ZM961.25 1250V1250H964.04V1250ZM964.04 1250V1250H966.83V1250ZM966.83 1250V1250H969.62V1250ZM969.62 1250V1250H972.41V1250ZM972.41 1250V1240.5H975.2V1250Z" fill="none" stroke="#000" stroke-width="1.6" stroke-linejoin="miter"/><path d="M640.35 1254.2H975.2M612.2 1250V1155" fill="none" stroke="#000" stroke-width="1.6" stroke-linecap="square"/><path d="M640.35 1254.2V1264.6M696.16 1254.2V1264.6M751.97 1254.2V1264.6M807.78 1254.2V1264.6M863.58 1254.2V1264.6M919.39 1254.2V1264.6M975.2 1254.2V1264.6M601.9 1250H612.2M601.9 1231H612.2M601.9 1212H612.2M601.9 1193H612.2M601.9 1174H612.2M601.9 1155H612.2" fill="none" stroke="#000" stroke-width="1.6"/><text x="640.35" y="1290.15" font-size="16.8" text-anchor="middle">0.88</text><text x="696.16" y="1290.15" font-size="16.8" text-anchor="middle">0.90</text><text x="751.97" y="1290.15" font-size="16.8" text-anchor="middle">0.92</text><text x="807.78" y="1290.15" font-size="16.8" text-anchor="middle">0.94</text><text x="863.58" y="1290.15" font-size="16.8" text-anchor="middle">0.96</text><text x="919.39" y="1290.15" font-size="16.8" text-anchor="middle">0.98</text><text x="975.2" y="1290.15" font-size="16.8" text-anchor="middle">1.00</text><text transform="translate(588.6 1250) rotate(-90)" font-size="16.8" text-anchor="middle">0</text><text transform="translate(588.6 1212) rotate(-90)" font-size="16.8" text-anchor="middle">4</text><text transform="translate(588.6 1174) rotate(-90)" font-size="16.8" text-anchor="middle">8</text><text transform="translate(548.2 1197.8) rotate(-90)" font-size="16.8" text-anchor="middle">Frequency</text><text x="800.7" y="1127.9" font-size="21.1" font-weight="bold" text-anchor="middle">Challenge15−Model(2)</text></g>
<g><path d="M125.7 1466.87V1459.9H130.61V1466.87ZM130.61 1466.87V1466.87H135.53V1466.87ZM135.53 1466.87V1459.9H140.44V1466.87ZM140.44 1466.87V1466.87H145.35V1466.87ZM145.35 1466.87V1466.87H150.26V1466.87ZM150.26 1466.87V1459.9H155.18V1466.87ZM155.18 1466.87V1466.87H160.09V1466.87ZM160.09 1466.87V1466.87H165V1466.87ZM165 1466.87V1466.87H169.91V1466.87ZM169.91 1466.87V1466.87H174.83V1466.87ZM174.83 1466.87V1466.87H179.74V1466.87ZM179.74 1466.87V1445.97H184.65V1466.87ZM184.65 1466.87V1466.87H189.56V1466.87ZM189.56 1466.87V1411.14H194.48V1466.87ZM194.48 1466.87V1466.87H199.39V1466.87ZM199.39 1466.87V1397.2H204.3V1466.87ZM204.3 1466.87V1466.87H209.22V1466.87ZM209.22 1466.87V1432.04H214.13V1466.87ZM214.13 1466.87V1466.87H219.04V1466.87ZM219.04 1466.87V1411.14H223.95V1466.87ZM223.95 1466.87V1466.87H228.87V1466.87ZM228.87 1466.87V1362.37H233.78V1466.87ZM233.78 1466.87V1397.2H238.69V1466.87ZM238.69 1466.87V1466.87H243.6V1466.87ZM243.6 1466.87V1432.04H248.52V1466.87ZM248.52 1466.87V1466.87H253.43V1466.87ZM253.43 1466.87V1445.97H258.34V1466.87ZM258.34 1466.87V1466.87H263.25V1466.87ZM263.25 1466.87V1439H268.17V1466.87ZM268.17 1466.87V1466.87H273.08V1466.87ZM273.08 1466.87V1439H277.99V1466.87ZM277.99 1466.87V1466.87H282.91V1466.87ZM282.91 1466.87V1452.94H287.82V1466.87ZM287.82 1466.87V1466.87H292.73V1466.87ZM292.73 1466.87V1445.97H297.64V1466.87ZM297.64 1466.87V1466.87H302.56V1466.87ZM302.56 1466.87V1466.87H307.47V1466.87ZM307.47 1466.87V1466.87H312.38V1466.87ZM312.38 1466.87V1466.87H317.29V1466.87ZM317.29 1466.87V1466.87H322.21V1466.87ZM322.21 1466.87V1459.9H327.12V1466.87ZM327.12 1466.87V1466.87H332.03V1466.87ZM332.03 1466.87V1466.87H336.95V1466.87ZM336.95 1466.87V1466.87H341.86V1466.87ZM341.86 1466.87V1466.87H346.77V1466.87ZM346.77 1466.87V1466.87H351.68V1466.87ZM351.68 1466.87V1466.87H356.6V1466.87ZM356.6 1466.87V1466.87H361.51V1466.87ZM361.51 1466.87V1466.87H366.42V1466.87ZM366.42 1466.87V1466.87H371.33V1466.87ZM371.33 1466.87V1466.87H376.25V1466.87ZM376.25 1466.87V1466.87H381.16V1466.87ZM381.16 1466.87V1466.87H386.07V1466.87ZM386.07 1466.87V1466.87H390.98V1466.87ZM390.98 1466.87V1466.87H395.9V1466.87ZM395.9 1466.87V1459.9H400.81V1466.87ZM400.81 1466.87V1466.87H405.72V1466.87ZM405.72 1466.87V1466.87H410.64V1466.87ZM410.64 1466.87V1466.87H415.55V1466.87ZM415.55 1466.87V1466.87H420.46V1466.87ZM420.46 1466.87V1466.87H425.37V1466.87ZM425.37 1466.87V1466.87H430.29V1466.87ZM430.29 1466.87V1466.87H435.2V1466.87ZM435.2 1466.87V1466.87H440.11V1466.87ZM440.11 1466.87V1466.87H445.02V1466.87ZM445.02 1466.87V1466.87H449.94V1466.87ZM449.94 1466.87V1466.87H454.85V1466.87ZM454.85 1466.87V1466.87H459.76V1466.87ZM459.76 1466.87V1466.87H464.67V1466.87ZM464.67 1466.87V1466.87H469.59V1466.87ZM469.59 1466.87V1459.9H474.5V1466.87Z" fill="none" stroke="#000" stroke-width="1.6" stroke-linejoin="miter"/><path d="M115.87 1471.07H459.76M111.5 1466.87V1362.37" fill="none" stroke="#000" stroke-width="1.6" stroke-linecap="square"/><path d="M115.87 1471.07V1481.47M165 1471.07V1481.47M214.13 1471.07V1481.47M263.25 1471.07V1481.47M312.38 1471.07V1481.47M361.51 1471.07V1481.47M410.64 1471.07V1481.47M459.76 1471.07V1481.47M101.2 1466.87H111.5M101.2 1432.04H111.5M101.2 1397.2H111.5M101.2 1362.37H111.5" fill="none" stroke="#000" stroke-width="1.6"/><text x="115.87" y="1507.02" font-size="16.8" text-anchor="middle">0.85</text><text x="165" y="1507.02" font-size="16.8" text-anchor="middle">0.86</text><text x="214.13" y="1507.02" font-size="16.8" text-anchor="middle">0.87</text><text x="263.25" y="1507.02" font-size="16.8" text-anchor="middle">0.88</text><text x="312.38" y="1507.02" font-size="16.8" text-anchor="middle">0.89</text><text x="361.51" y="1507.02" font-size="16.8" text-anchor="middle">0.90</text><text x="410.64" y="1507.02" font-size="16.8" text-anchor="middle">0.91</text><text x="459.76" y="1507.02" font-size="16.8" text-anchor="middle">0.92</text><text transform="translate(87.9 1466.87) rotate(-90)" font-size="16.8" text-anchor="middle">0</text><text transform="translate(87.9 1432.04) rotate(-90)" font-size="16.8" text-anchor="middle">5</text><text transform="translate(87.9 1397.2) rotate(-90)" font-size="16.8" text-anchor="middle">10</text><text transform="translate(87.9 1362.37) rotate(-90)" font-size="16.8" text-anchor="middle">15</text><text transform="translate(47.5 1414.67) rotate(-90)" font-size="16.8" text-anchor="middle">Frequency</text><text x="300" y="1344.77" font-size="21.1" font-weight="bold" text-anchor="middle">Challenge16−Model(2)</text></g>
<g><path d="M626.4 1466.87V1458.83H630.99V1466.87ZM630.99 1466.87V1466.87H635.58V1466.87ZM635.58 1466.87V1466.87H640.17V1466.87ZM640.17 1466.87V1466.87H644.76V1466.87ZM644.76 1466.87V1458.83H649.35V1466.87ZM649.35 1466.87V1458.83H653.94V1466.87ZM653.94 1466.87V1466.87H658.53V1466.87ZM658.53 1466.87V1466.87H663.12V1466.87ZM663.12 1466.87V1450.79H667.71V1466.87ZM667.71 1466.87V1466.87H672.29V1466.87ZM672.29 1466.87V1466.87H676.88V1466.87ZM676.88 1466.87V1466.87H681.47V1466.87ZM681.47 1466.87V1458.83H686.06V1466.87ZM686.06 1466.87V1458.83H690.65V1466.87ZM690.65 1466.87V1458.83H695.24V1466.87ZM695.24 1466.87V1466.87H699.83V1466.87ZM699.83 1466.87V1466.87H704.42V1466.87ZM704.42 1466.87V1450.79H709.01V1466.87ZM709.01 1466.87V1458.83H713.6V1466.87ZM713.6 1466.87V1450.79H718.19V1466.87ZM718.19 1466.87V1434.72H722.78V1466.87ZM722.78 1466.87V1450.79H727.37V1466.87ZM727.37 1466.87V1450.79H731.96V1466.87ZM731.96 1466.87V1450.79H736.55V1466.87ZM736.55 1466.87V1442.75H741.14V1466.87ZM741.14 1466.87V1418.64H745.73V1466.87ZM745.73 1466.87V1450.79H750.32V1466.87ZM750.32 1466.87V1458.83H754.91V1466.87ZM754.91 1466.87V1442.75H759.49V1466.87ZM759.49 1466.87V1434.72H764.08V1466.87ZM764.08 1466.87V1434.72H768.67V1466.87ZM768.67 1466.87V1458.83H773.26V1466.87ZM773.26 1466.87V1450.79H777.85V1466.87ZM777.85 1466.87V1410.6H782.44V1466.87ZM782.44 1466.87V1402.56H787.03V1466.87ZM787.03 1466.87V1442.75H791.62V1466.87ZM791.62 1466.87V1402.56H796.21V1466.87ZM796.21 1466.87V1442.75H800.8V1466.87ZM800.8 1466.87V1450.79H805.39V1466.87ZM805.39 1466.87V1410.6H809.98V1466.87ZM809.98 1466.87V1426.68H814.57V1466.87ZM814.57 1466.87V1442.75H819.16V1466.87ZM819.16 1466.87V1362.37H823.75V1466.87ZM823.75 1466.87V1442.75H828.34V1466.87ZM828.34 1466.87V1410.6H832.93V1466.87ZM832.93 1466.87V1434.72H837.52V1466.87ZM837.52 1466.87V1426.68H842.11V1466.87ZM842.11 1466.87V1386.49H846.69V1466.87ZM846.69 1466.87V1450.79H851.28V1466.87ZM851.28 1466.87V1426.68H855.87V1466.87ZM855.87 1466.87V1394.52H860.46V1466.87ZM860.46 1466.87V1434.72H865.05V1466.87ZM865.05 1466.87V1418.64H869.64V1466.87ZM869.64 1466.87V1418.64H874.23V1466.87ZM874.23 1466.87V1450.79H878.82V1466.87ZM878.82 1466.87V1410.6H883.41V1466.87ZM883.41 1466.87V1426.68H888V1466.87ZM888 1466.87V1434.72H892.59V1466.87ZM892.59 1466.87V1442.75H897.18V1466.87ZM897.18 1466.87V1442.75H901.77V1466.87ZM901.77 1466.87V1410.6H906.36V1466.87ZM906.36 1466.87V1442.75H910.95V1466.87ZM910.95 1466.87V1442.75H915.54V1466.87ZM915.54 1466.87V1434.72H920.13V1466.87ZM920.13 1466.87V1426.68H924.72V1466.87ZM924.72 1466.87V1450.79H929.31V1466.87ZM929.31 1466.87V1450.79H933.89V1466.87ZM933.89 1466.87V1466.87H938.48V1466.87ZM938.48 1466.87V1458.83H943.07V1466.87ZM943.07 1466.87V1450.79H947.66V1466.87ZM947.66 1466.87V1466.87H952.25V1466.87ZM952.25 1466.87V1458.83H956.84V1466.87ZM956.84 1466.87V1466.87H961.43V1466.87ZM961.43 1466.87V1458.83H966.02V1466.87ZM966.02 1466.87V1466.87H970.61V1466.87ZM970.61 1466.87V1458.83H975.2V1466.87Z" fill="none" stroke="#000" stroke-width="1.6" stroke-linejoin="miter"/><path d="M722.78 1471.07H952.25M612.2 1466.87V1370.41" fill="none" stroke="#000" stroke-width="1.6" stroke-linecap="square"/><path d="M722.78 1471.07V1481.47M837.52 1471.07V1481.47M952.25 1471.07V1481.47M601.9 1466.87H612.2M601.9 1450.79H612.2M601.9 1434.72H612.2M601.9 1418.64H612.2M601.9 1402.56H612.2M601.9 1386.49H612.2M601.9 1370.41H612.2" fill="none" stroke="#000" stroke-width="1.6"/><text x="722.78" y="1507.02" font-size="16.8" text-anchor="middle">0.85</text><text x="837.52" y="1507.02" font-size="16.8" text-anchor="middle">0.90</text><text x="952.25" y="1507.02" font-size="16.8" text-anchor="middle">0.95</text><text transform="translate(588.6 1466.87) rotate(-90)" font-size="16.8" text-anchor="middle">0</text><text transform="translate(588.6 1434.72) rotate(-90)" font-size="16.8" text-anchor="middle">4</text><text transform="translate(588.6 1402.56) rotate(-90)" font-size="16.8" text-anchor="middle">8</text><text transform="translate(588.6 1370.41) rotate(-90)" font-size="16.8" text-anchor="middle">12</text><text transform="translate(548.2 1414.67) rotate(-90)" font-size="16.8" text-anchor="middle">Frequency</text><text x="800.7" y="1344.77" font-size="21.1" font-weight="bold" text-anchor="middle">Challenge17−Model(4)</text></g>
</svg></body></html>
